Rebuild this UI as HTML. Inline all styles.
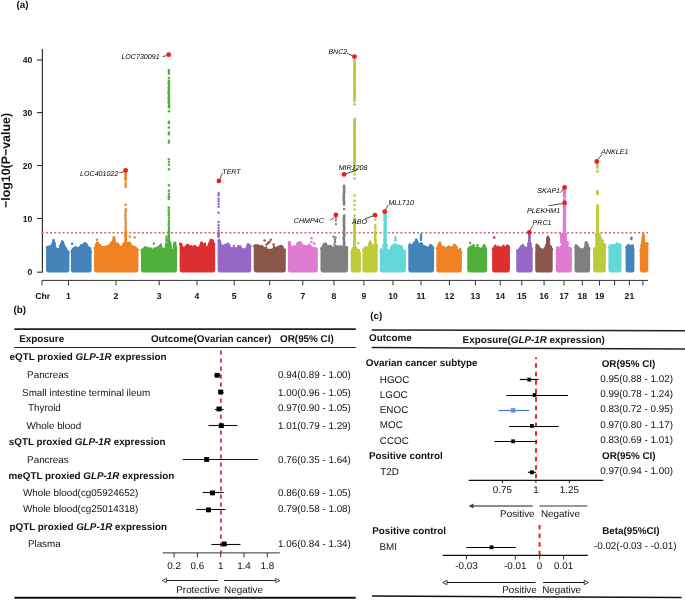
<!DOCTYPE html>
<html><head><meta charset="utf-8"><title>Figure</title>
<style>html,body{margin:0;padding:0;background:#fff;width:685px;height:600px;overflow:hidden}svg{display:block;will-change:transform}</style>
</head><body>
<svg width="685" height="600" viewBox="0 0 685 600">
<style>
text{font-family:"Liberation Sans",sans-serif;fill:#111;text-rendering:geometricPrecision}
.lab{font-size:7.1px;font-style:italic;fill:#000}
.tk{font-size:8.6px;font-weight:bold}
.yt{font-size:12.4px;font-weight:bold}
.b9{font-size:9.5px;font-weight:bold}
.b10{font-size:9.85px;font-weight:bold}
.r10{font-size:9.85px}
</style>
<rect width="685" height="600" fill="#fff"/>
<text x="16.5" y="8.1" class="b10">(a)</text><line x1="42.4" y1="49" x2="42.4" y2="272.6" stroke="#333" stroke-width="1.2"/><line x1="37" y1="60" x2="42.4" y2="60" stroke="#333" stroke-width="1.1"/><text x="32.4" y="63.1" class="tk" text-anchor="end">40</text><line x1="37" y1="112.6" x2="42.4" y2="112.6" stroke="#333" stroke-width="1.1"/><text x="32.4" y="115.7" class="tk" text-anchor="end">30</text><line x1="37" y1="165.5" x2="42.4" y2="165.5" stroke="#333" stroke-width="1.1"/><text x="32.4" y="168.6" class="tk" text-anchor="end">20</text><line x1="37" y1="218.5" x2="42.4" y2="218.5" stroke="#333" stroke-width="1.1"/><text x="32.4" y="221.6" class="tk" text-anchor="end">10</text><line x1="37" y1="272.2" x2="42.4" y2="272.2" stroke="#333" stroke-width="1.1"/><text x="32.4" y="275.3" class="tk" text-anchor="end">0</text><text transform="translate(9.8,160.5) rotate(-90)" class="yt" text-anchor="middle">−log10(P−value)</text><line x1="42" y1="280.4" x2="648" y2="280.4" stroke="#333" stroke-width="1"/><line x1="42" y1="280.4" x2="42" y2="285.4" stroke="#333" stroke-width="1"/><line x1="68.5" y1="280.4" x2="68.5" y2="285.4" stroke="#333" stroke-width="1"/><text x="68.5" y="298.6" class="tk" text-anchor="middle">1</text><line x1="116" y1="280.4" x2="116" y2="285.4" stroke="#333" stroke-width="1"/><text x="116" y="298.6" class="tk" text-anchor="middle">2</text><line x1="159.2" y1="280.4" x2="159.2" y2="285.4" stroke="#333" stroke-width="1"/><text x="159.2" y="298.6" class="tk" text-anchor="middle">3</text><line x1="197" y1="280.4" x2="197" y2="285.4" stroke="#333" stroke-width="1"/><text x="197" y="298.6" class="tk" text-anchor="middle">4</text><line x1="234.2" y1="280.4" x2="234.2" y2="285.4" stroke="#333" stroke-width="1"/><text x="234.2" y="298.6" class="tk" text-anchor="middle">5</text><line x1="269.7" y1="280.4" x2="269.7" y2="285.4" stroke="#333" stroke-width="1"/><text x="269.7" y="298.6" class="tk" text-anchor="middle">6</text><line x1="302.8" y1="280.4" x2="302.8" y2="285.4" stroke="#333" stroke-width="1"/><text x="302.8" y="298.6" class="tk" text-anchor="middle">7</text><line x1="334" y1="280.4" x2="334" y2="285.4" stroke="#333" stroke-width="1"/><text x="334" y="298.6" class="tk" text-anchor="middle">8</text><line x1="363.9" y1="280.4" x2="363.9" y2="285.4" stroke="#333" stroke-width="1"/><text x="363.9" y="298.6" class="tk" text-anchor="middle">9</text><line x1="393" y1="280.4" x2="393" y2="285.4" stroke="#333" stroke-width="1"/><text x="393" y="298.6" class="tk" text-anchor="middle">10</text><line x1="421" y1="280.4" x2="421" y2="285.4" stroke="#333" stroke-width="1"/><text x="421" y="298.6" class="tk" text-anchor="middle">11</text><line x1="449.4" y1="280.4" x2="449.4" y2="285.4" stroke="#333" stroke-width="1"/><text x="449.4" y="298.6" class="tk" text-anchor="middle">12</text><line x1="475.4" y1="280.4" x2="475.4" y2="285.4" stroke="#333" stroke-width="1"/><text x="475.4" y="298.6" class="tk" text-anchor="middle">13</text><line x1="500.2" y1="280.4" x2="500.2" y2="285.4" stroke="#333" stroke-width="1"/><text x="500.2" y="298.6" class="tk" text-anchor="middle">14</text><line x1="521.8" y1="280.4" x2="521.8" y2="285.4" stroke="#333" stroke-width="1"/><text x="521.8" y="298.6" class="tk" text-anchor="middle">15</text><line x1="544.1" y1="280.4" x2="544.1" y2="285.4" stroke="#333" stroke-width="1"/><text x="544.1" y="298.6" class="tk" text-anchor="middle">16</text><line x1="564" y1="280.4" x2="564" y2="285.4" stroke="#333" stroke-width="1"/><text x="564" y="298.6" class="tk" text-anchor="middle">17</text><line x1="582.3" y1="280.4" x2="582.3" y2="285.4" stroke="#333" stroke-width="1"/><text x="582.3" y="298.6" class="tk" text-anchor="middle">18</text><line x1="599.5" y1="280.4" x2="599.5" y2="285.4" stroke="#333" stroke-width="1"/><text x="599.5" y="298.6" class="tk" text-anchor="middle">19</text><line x1="614.6" y1="280.4" x2="614.6" y2="285.4" stroke="#333" stroke-width="1"/><line x1="629.4" y1="280.4" x2="629.4" y2="285.4" stroke="#333" stroke-width="1"/><text x="629.4" y="298.6" class="tk" text-anchor="middle">21</text><line x1="642.9" y1="280.4" x2="642.9" y2="285.4" stroke="#333" stroke-width="1"/><text x="35.3" y="298.6" class="tk">Chr</text><line x1="41.7" y1="232.8" x2="648" y2="232.8" stroke="#d06a78" stroke-width="1.4" stroke-dasharray="2.1,2.07"/>
<path d="M46.90,248.10 L47.50,247.00 L50.00,246.30 L52.00,245.60 L52.60,242.80 L53.70,241.20 L54.90,242.80 L55.50,248.50 L57.00,249.00 L59.50,250.00 L61.00,243.80 L62.30,241.20 L63.60,243.80 L64.50,246.30 L65.50,247.80 L67.00,250.30 L68.50,252.10 L68.60,253.60 L68.60,269.80 Q68.60,271.80 66.60,271.80 L48.90,271.80 Q46.90,271.80 46.90,269.80 Z" fill="#4484ba" stroke="#4484ba" stroke-width="1.6" stroke-linejoin="round"/><circle cx="46.93" cy="247.45" r="1.2" fill="#4484ba"/><circle cx="48.05" cy="246.74" r="1.2" fill="#4484ba"/><circle cx="48.92" cy="246.88" r="1.2" fill="#4484ba"/><circle cx="49.56" cy="246.88" r="1.2" fill="#4484ba"/><circle cx="50.48" cy="246.49" r="1.2" fill="#4484ba"/><circle cx="51.43" cy="245.72" r="1.2" fill="#4484ba"/><circle cx="52.58" cy="243.77" r="1.2" fill="#4484ba"/><circle cx="53.33" cy="241.83" r="1.2" fill="#4484ba"/><circle cx="54.56" cy="243.38" r="1.2" fill="#4484ba"/><circle cx="55.47" cy="248.50" r="1.2" fill="#4484ba"/><circle cx="56.64" cy="248.74" r="1.2" fill="#4484ba"/><circle cx="57.50" cy="249.38" r="1.2" fill="#4484ba"/><circle cx="58.00" cy="249.35" r="1.2" fill="#4484ba"/><circle cx="59.03" cy="250.67" r="1.2" fill="#4484ba"/><circle cx="59.89" cy="248.95" r="1.2" fill="#4484ba"/><circle cx="61.10" cy="243.89" r="1.2" fill="#4484ba"/><circle cx="61.97" cy="241.74" r="1.2" fill="#4484ba"/><circle cx="62.61" cy="241.89" r="1.2" fill="#4484ba"/><circle cx="63.92" cy="245.03" r="1.2" fill="#4484ba"/><circle cx="64.63" cy="247.05" r="1.2" fill="#4484ba"/><circle cx="65.64" cy="248.23" r="1.2" fill="#4484ba"/><circle cx="66.78" cy="250.64" r="1.2" fill="#4484ba"/><circle cx="67.38" cy="251.31" r="1.2" fill="#4484ba"/><circle cx="68.48" cy="253.02" r="1.2" fill="#4484ba"/><circle cx="53.56" cy="240.02" r="1.2" fill="#4484ba"/><circle cx="53.56" cy="240.91" r="1.2" fill="#4484ba"/><circle cx="60.04" cy="246.05" r="1.2" fill="#4484ba"/><circle cx="60.04" cy="247.10" r="1.2" fill="#4484ba"/><circle cx="53.70" cy="241.60" r="1.2" fill="#4484ba"/><circle cx="62.30" cy="241.60" r="1.2" fill="#4484ba"/><path d="M71.70,251.00 L72.50,249.20 L75.50,247.00 L77.00,248.50 L79.00,247.80 L81.50,244.80 L83.00,246.30 L85.20,243.40 L87.00,245.90 L89.00,249.20 L91.00,251.00 L90.80,251.80 L90.80,269.80 Q90.80,271.80 88.80,271.80 L73.70,271.80 Q71.70,271.80 71.70,269.80 Z" fill="#4484ba" stroke="#4484ba" stroke-width="1.6" stroke-linejoin="round"/><circle cx="71.58" cy="250.95" r="1.2" fill="#4484ba"/><circle cx="72.87" cy="250.02" r="1.2" fill="#4484ba"/><circle cx="73.92" cy="248.33" r="1.2" fill="#4484ba"/><circle cx="74.60" cy="248.33" r="1.2" fill="#4484ba"/><circle cx="75.32" cy="247.53" r="1.2" fill="#4484ba"/><circle cx="76.35" cy="247.80" r="1.2" fill="#4484ba"/><circle cx="77.22" cy="249.22" r="1.2" fill="#4484ba"/><circle cx="78.20" cy="248.20" r="1.2" fill="#4484ba"/><circle cx="79.30" cy="248.37" r="1.2" fill="#4484ba"/><circle cx="80.06" cy="246.92" r="1.2" fill="#4484ba"/><circle cx="81.28" cy="246.01" r="1.2" fill="#4484ba"/><circle cx="82.38" cy="246.61" r="1.2" fill="#4484ba"/><circle cx="83.00" cy="246.64" r="1.2" fill="#4484ba"/><circle cx="83.99" cy="245.95" r="1.2" fill="#4484ba"/><circle cx="85.29" cy="243.52" r="1.2" fill="#4484ba"/><circle cx="85.76" cy="244.28" r="1.2" fill="#4484ba"/><circle cx="86.74" cy="245.96" r="1.2" fill="#4484ba"/><circle cx="87.89" cy="247.51" r="1.2" fill="#4484ba"/><circle cx="88.48" cy="248.69" r="1.2" fill="#4484ba"/><circle cx="89.64" cy="250.31" r="1.2" fill="#4484ba"/><circle cx="90.93" cy="251.64" r="1.2" fill="#4484ba"/><circle cx="83.05" cy="244.62" r="1.2" fill="#4484ba"/><circle cx="83.05" cy="245.63" r="1.2" fill="#4484ba"/><circle cx="84.71" cy="243.11" r="1.2" fill="#4484ba"/><circle cx="84.71" cy="243.78" r="1.2" fill="#4484ba"/><circle cx="86.47" cy="244.48" r="1.2" fill="#4484ba"/><circle cx="86.47" cy="245.03" r="1.2" fill="#4484ba"/><circle cx="88.07" cy="246.91" r="1.2" fill="#4484ba"/><circle cx="88.07" cy="247.49" r="1.2" fill="#4484ba"/><circle cx="90.04" cy="248.13" r="1.2" fill="#4484ba"/><circle cx="90.04" cy="249.33" r="1.2" fill="#4484ba"/><circle cx="75.50" cy="247.40" r="1.2" fill="#4484ba"/><circle cx="81.50" cy="245.20" r="1.2" fill="#4484ba"/><circle cx="85.20" cy="243.80" r="1.2" fill="#4484ba"/><path d="M94.90,249.10 L95.50,247.00 L96.20,243.80 L97.00,242.30 L97.80,243.80 L99.00,246.30 L103.00,247.00 L106.00,246.70 L108.50,246.00 L110.50,243.80 L111.50,242.30 L112.50,243.80 L113.20,239.80 L114.00,238.30 L114.80,239.80 L115.60,245.20 L117.50,243.40 L119.00,245.60 L121.50,247.80 L123.00,244.80 L124.00,243.00 L125.60,242.80 L127.00,245.60 L128.50,243.80 L129.50,242.30 L130.50,243.80 L131.50,246.00 L134.00,246.70 L137.00,248.50 L137.60,250.70 L137.60,269.80 Q137.60,271.80 135.60,271.80 L96.90,271.80 Q94.90,271.80 94.90,269.80 Z" fill="#f08224" stroke="#f08224" stroke-width="1.6" stroke-linejoin="round"/><circle cx="94.79" cy="248.19" r="1.2" fill="#f08224"/><circle cx="95.82" cy="245.83" r="1.2" fill="#f08224"/><circle cx="96.59" cy="243.98" r="1.2" fill="#f08224"/><circle cx="98.01" cy="244.65" r="1.2" fill="#f08224"/><circle cx="98.61" cy="245.40" r="1.2" fill="#f08224"/><circle cx="99.29" cy="246.60" r="1.2" fill="#f08224"/><circle cx="100.29" cy="247.40" r="1.2" fill="#f08224"/><circle cx="101.13" cy="246.50" r="1.2" fill="#f08224"/><circle cx="102.51" cy="247.40" r="1.2" fill="#f08224"/><circle cx="102.93" cy="247.49" r="1.2" fill="#f08224"/><circle cx="103.76" cy="247.41" r="1.2" fill="#f08224"/><circle cx="105.24" cy="247.70" r="1.2" fill="#f08224"/><circle cx="105.97" cy="246.84" r="1.2" fill="#f08224"/><circle cx="106.68" cy="246.53" r="1.2" fill="#f08224"/><circle cx="107.82" cy="246.68" r="1.2" fill="#f08224"/><circle cx="108.73" cy="245.97" r="1.2" fill="#f08224"/><circle cx="109.30" cy="245.97" r="1.2" fill="#f08224"/><circle cx="110.66" cy="244.46" r="1.2" fill="#f08224"/><circle cx="111.46" cy="243.22" r="1.2" fill="#f08224"/><circle cx="112.33" cy="243.63" r="1.2" fill="#f08224"/><circle cx="113.10" cy="240.65" r="1.2" fill="#f08224"/><circle cx="113.71" cy="238.69" r="1.2" fill="#f08224"/><circle cx="114.76" cy="239.86" r="1.2" fill="#f08224"/><circle cx="115.91" cy="245.95" r="1.2" fill="#f08224"/><circle cx="116.67" cy="245.20" r="1.2" fill="#f08224"/><circle cx="117.90" cy="245.03" r="1.2" fill="#f08224"/><circle cx="118.43" cy="244.85" r="1.2" fill="#f08224"/><circle cx="119.25" cy="245.88" r="1.2" fill="#f08224"/><circle cx="120.14" cy="247.22" r="1.2" fill="#f08224"/><circle cx="121.46" cy="248.66" r="1.2" fill="#f08224"/><circle cx="122.11" cy="247.22" r="1.2" fill="#f08224"/><circle cx="123.21" cy="244.33" r="1.2" fill="#f08224"/><circle cx="124.03" cy="243.98" r="1.2" fill="#f08224"/><circle cx="125.01" cy="243.65" r="1.2" fill="#f08224"/><circle cx="125.73" cy="243.09" r="1.2" fill="#f08224"/><circle cx="126.82" cy="245.47" r="1.2" fill="#f08224"/><circle cx="127.73" cy="245.79" r="1.2" fill="#f08224"/><circle cx="128.39" cy="244.25" r="1.2" fill="#f08224"/><circle cx="129.63" cy="243.23" r="1.2" fill="#f08224"/><circle cx="130.07" cy="243.11" r="1.2" fill="#f08224"/><circle cx="130.96" cy="245.78" r="1.2" fill="#f08224"/><circle cx="132.26" cy="246.20" r="1.2" fill="#f08224"/><circle cx="133.17" cy="247.54" r="1.2" fill="#f08224"/><circle cx="133.97" cy="246.95" r="1.2" fill="#f08224"/><circle cx="134.81" cy="247.16" r="1.2" fill="#f08224"/><circle cx="135.40" cy="248.60" r="1.2" fill="#f08224"/><circle cx="136.68" cy="248.79" r="1.2" fill="#f08224"/><circle cx="137.76" cy="250.05" r="1.2" fill="#f08224"/><circle cx="98.03" cy="243.27" r="1.2" fill="#f08224"/><circle cx="98.03" cy="243.97" r="1.2" fill="#f08224"/><circle cx="99.92" cy="244.92" r="1.2" fill="#f08224"/><circle cx="99.92" cy="245.89" r="1.2" fill="#f08224"/><circle cx="113.89" cy="237.20" r="1.2" fill="#f08224"/><circle cx="113.89" cy="238.05" r="1.2" fill="#f08224"/><circle cx="115.68" cy="243.25" r="1.2" fill="#f08224"/><circle cx="115.68" cy="244.39" r="1.2" fill="#f08224"/><circle cx="127.41" cy="243.27" r="1.2" fill="#f08224"/><circle cx="127.41" cy="244.39" r="1.2" fill="#f08224"/><circle cx="97.00" cy="242.70" r="1.2" fill="#f08224"/><circle cx="111.50" cy="242.70" r="1.2" fill="#f08224"/><circle cx="114.00" cy="238.70" r="1.2" fill="#f08224"/><circle cx="117.50" cy="243.80" r="1.2" fill="#f08224"/><circle cx="125.60" cy="243.20" r="1.2" fill="#f08224"/><circle cx="129.50" cy="242.70" r="1.2" fill="#f08224"/><path d="M141.70,250.80 L142.50,248.90 L145.00,248.10 L147.00,248.40 L149.00,249.60 L151.00,250.30 L154.00,248.90 L156.00,250.30 L158.00,248.50 L159.50,246.80 L160.50,246.00 L161.50,246.80 L162.00,247.80 L163.50,250.00 L165.00,248.90 L166.00,243.80 L168.90,243.30 L170.50,244.10 L171.50,249.60 L173.50,250.00 L174.20,244.80 L175.00,242.30 L175.80,244.80 L176.50,250.30 L176.30,251.30 L176.30,269.80 Q176.30,271.80 174.30,271.80 L143.70,271.80 Q141.70,271.80 141.70,269.80 Z" fill="#4fb03a" stroke="#4fb03a" stroke-width="1.6" stroke-linejoin="round"/><circle cx="141.78" cy="250.25" r="1.2" fill="#4fb03a"/><circle cx="142.70" cy="249.86" r="1.2" fill="#4fb03a"/><circle cx="143.73" cy="249.44" r="1.2" fill="#4fb03a"/><circle cx="144.79" cy="248.31" r="1.2" fill="#4fb03a"/><circle cx="145.46" cy="249.20" r="1.2" fill="#4fb03a"/><circle cx="146.53" cy="248.31" r="1.2" fill="#4fb03a"/><circle cx="147.01" cy="248.78" r="1.2" fill="#4fb03a"/><circle cx="147.88" cy="249.04" r="1.2" fill="#4fb03a"/><circle cx="148.79" cy="250.14" r="1.2" fill="#4fb03a"/><circle cx="150.12" cy="250.96" r="1.2" fill="#4fb03a"/><circle cx="150.65" cy="250.91" r="1.2" fill="#4fb03a"/><circle cx="151.86" cy="249.89" r="1.2" fill="#4fb03a"/><circle cx="152.89" cy="250.47" r="1.2" fill="#4fb03a"/><circle cx="153.40" cy="250.22" r="1.2" fill="#4fb03a"/><circle cx="154.41" cy="249.62" r="1.2" fill="#4fb03a"/><circle cx="155.67" cy="250.95" r="1.2" fill="#4fb03a"/><circle cx="156.08" cy="250.59" r="1.2" fill="#4fb03a"/><circle cx="157.20" cy="249.46" r="1.2" fill="#4fb03a"/><circle cx="157.91" cy="248.79" r="1.2" fill="#4fb03a"/><circle cx="159.13" cy="247.04" r="1.2" fill="#4fb03a"/><circle cx="159.94" cy="246.82" r="1.2" fill="#4fb03a"/><circle cx="160.52" cy="246.25" r="1.2" fill="#4fb03a"/><circle cx="161.79" cy="247.84" r="1.2" fill="#4fb03a"/><circle cx="162.36" cy="249.41" r="1.2" fill="#4fb03a"/><circle cx="163.70" cy="250.92" r="1.2" fill="#4fb03a"/><circle cx="164.19" cy="249.64" r="1.2" fill="#4fb03a"/><circle cx="165.06" cy="249.41" r="1.2" fill="#4fb03a"/><circle cx="166.10" cy="243.75" r="1.2" fill="#4fb03a"/><circle cx="167.10" cy="244.60" r="1.2" fill="#4fb03a"/><circle cx="168.24" cy="243.55" r="1.2" fill="#4fb03a"/><circle cx="168.74" cy="244.32" r="1.2" fill="#4fb03a"/><circle cx="169.90" cy="244.51" r="1.2" fill="#4fb03a"/><circle cx="170.52" cy="244.08" r="1.2" fill="#4fb03a"/><circle cx="171.78" cy="250.01" r="1.2" fill="#4fb03a"/><circle cx="172.32" cy="250.78" r="1.2" fill="#4fb03a"/><circle cx="173.56" cy="250.39" r="1.2" fill="#4fb03a"/><circle cx="174.14" cy="246.19" r="1.2" fill="#4fb03a"/><circle cx="175.03" cy="243.32" r="1.2" fill="#4fb03a"/><circle cx="176.17" cy="247.93" r="1.2" fill="#4fb03a"/><circle cx="144.93" cy="247.32" r="1.2" fill="#4fb03a"/><circle cx="144.93" cy="247.92" r="1.2" fill="#4fb03a"/><circle cx="147.05" cy="247.66" r="1.2" fill="#4fb03a"/><circle cx="147.05" cy="248.24" r="1.2" fill="#4fb03a"/><circle cx="148.82" cy="248.57" r="1.2" fill="#4fb03a"/><circle cx="148.82" cy="249.23" r="1.2" fill="#4fb03a"/><circle cx="150.73" cy="248.39" r="1.2" fill="#4fb03a"/><circle cx="150.73" cy="249.50" r="1.2" fill="#4fb03a"/><circle cx="154.39" cy="248.55" r="1.2" fill="#4fb03a"/><circle cx="154.39" cy="249.06" r="1.2" fill="#4fb03a"/><circle cx="156.25" cy="248.31" r="1.2" fill="#4fb03a"/><circle cx="156.25" cy="249.39" r="1.2" fill="#4fb03a"/><circle cx="158.40" cy="246.69" r="1.2" fill="#4fb03a"/><circle cx="158.40" cy="247.57" r="1.2" fill="#4fb03a"/><circle cx="160.93" cy="244.43" r="1.2" fill="#4fb03a"/><circle cx="160.93" cy="245.59" r="1.2" fill="#4fb03a"/><circle cx="170.09" cy="241.96" r="1.2" fill="#4fb03a"/><circle cx="170.09" cy="243.13" r="1.2" fill="#4fb03a"/><circle cx="174.40" cy="243.49" r="1.2" fill="#4fb03a"/><circle cx="174.40" cy="244.04" r="1.2" fill="#4fb03a"/><circle cx="145.00" cy="248.50" r="1.2" fill="#4fb03a"/><circle cx="154.00" cy="249.30" r="1.2" fill="#4fb03a"/><circle cx="160.50" cy="246.40" r="1.2" fill="#4fb03a"/><circle cx="168.90" cy="243.70" r="1.2" fill="#4fb03a"/><circle cx="175.00" cy="242.70" r="1.2" fill="#4fb03a"/><path d="M180.40,244.30 L180.30,243.40 L181.00,243.80 L182.50,247.00 L184.00,248.10 L185.50,247.00 L186.70,245.30 L187.50,244.50 L188.30,245.30 L189.00,247.00 L191.00,247.80 L193.00,248.50 L194.50,246.00 L196.50,247.40 L198.50,248.10 L200.50,245.20 L201.50,242.30 L202.50,245.30 L203.00,247.00 L205.00,245.80 L206.00,248.10 L207.50,248.10 L209.00,243.80 L210.50,241.60 L212.50,240.10 L214.00,244.10 L214.30,248.30 L214.30,269.80 Q214.30,271.80 212.30,271.80 L182.40,271.80 Q180.40,271.80 180.40,269.80 Z" fill="#dc2f2f" stroke="#dc2f2f" stroke-width="1.6" stroke-linejoin="round"/><circle cx="180.25" cy="244.22" r="1.2" fill="#dc2f2f"/><circle cx="181.27" cy="244.40" r="1.2" fill="#dc2f2f"/><circle cx="182.08" cy="247.00" r="1.2" fill="#dc2f2f"/><circle cx="183.46" cy="248.38" r="1.2" fill="#dc2f2f"/><circle cx="184.02" cy="248.20" r="1.2" fill="#dc2f2f"/><circle cx="184.94" cy="247.81" r="1.2" fill="#dc2f2f"/><circle cx="185.77" cy="247.00" r="1.2" fill="#dc2f2f"/><circle cx="186.74" cy="246.31" r="1.2" fill="#dc2f2f"/><circle cx="188.08" cy="245.59" r="1.2" fill="#dc2f2f"/><circle cx="188.55" cy="246.96" r="1.2" fill="#dc2f2f"/><circle cx="189.50" cy="247.46" r="1.2" fill="#dc2f2f"/><circle cx="190.22" cy="247.79" r="1.2" fill="#dc2f2f"/><circle cx="191.42" cy="248.40" r="1.2" fill="#dc2f2f"/><circle cx="192.16" cy="248.66" r="1.2" fill="#dc2f2f"/><circle cx="192.96" cy="248.63" r="1.2" fill="#dc2f2f"/><circle cx="193.92" cy="247.29" r="1.2" fill="#dc2f2f"/><circle cx="194.80" cy="246.04" r="1.2" fill="#dc2f2f"/><circle cx="195.87" cy="247.06" r="1.2" fill="#dc2f2f"/><circle cx="196.95" cy="248.04" r="1.2" fill="#dc2f2f"/><circle cx="197.96" cy="248.56" r="1.2" fill="#dc2f2f"/><circle cx="198.84" cy="248.54" r="1.2" fill="#dc2f2f"/><circle cx="199.56" cy="246.79" r="1.2" fill="#dc2f2f"/><circle cx="200.83" cy="244.25" r="1.2" fill="#dc2f2f"/><circle cx="201.58" cy="243.18" r="1.2" fill="#dc2f2f"/><circle cx="202.08" cy="244.93" r="1.2" fill="#dc2f2f"/><circle cx="203.50" cy="247.31" r="1.2" fill="#dc2f2f"/><circle cx="204.32" cy="247.07" r="1.2" fill="#dc2f2f"/><circle cx="204.87" cy="246.36" r="1.2" fill="#dc2f2f"/><circle cx="206.00" cy="248.99" r="1.2" fill="#dc2f2f"/><circle cx="207.09" cy="248.97" r="1.2" fill="#dc2f2f"/><circle cx="207.87" cy="248.00" r="1.2" fill="#dc2f2f"/><circle cx="208.84" cy="244.97" r="1.2" fill="#dc2f2f"/><circle cx="209.48" cy="242.94" r="1.2" fill="#dc2f2f"/><circle cx="210.33" cy="242.12" r="1.2" fill="#dc2f2f"/><circle cx="211.22" cy="241.95" r="1.2" fill="#dc2f2f"/><circle cx="212.40" cy="240.79" r="1.2" fill="#dc2f2f"/><circle cx="213.36" cy="243.07" r="1.2" fill="#dc2f2f"/><circle cx="214.18" cy="244.60" r="1.2" fill="#dc2f2f"/><circle cx="189.10" cy="246.02" r="1.2" fill="#dc2f2f"/><circle cx="189.10" cy="246.73" r="1.2" fill="#dc2f2f"/><circle cx="191.43" cy="246.17" r="1.2" fill="#dc2f2f"/><circle cx="191.43" cy="247.26" r="1.2" fill="#dc2f2f"/><circle cx="202.17" cy="243.30" r="1.2" fill="#dc2f2f"/><circle cx="202.17" cy="244.00" r="1.2" fill="#dc2f2f"/><circle cx="204.51" cy="244.59" r="1.2" fill="#dc2f2f"/><circle cx="204.51" cy="245.54" r="1.2" fill="#dc2f2f"/><circle cx="206.12" cy="247.07" r="1.2" fill="#dc2f2f"/><circle cx="206.12" cy="247.78" r="1.2" fill="#dc2f2f"/><circle cx="210.67" cy="240.05" r="1.2" fill="#dc2f2f"/><circle cx="210.67" cy="240.96" r="1.2" fill="#dc2f2f"/><circle cx="180.30" cy="243.80" r="1.2" fill="#dc2f2f"/><circle cx="187.50" cy="244.90" r="1.2" fill="#dc2f2f"/><circle cx="194.50" cy="246.40" r="1.2" fill="#dc2f2f"/><circle cx="201.50" cy="242.70" r="1.2" fill="#dc2f2f"/><circle cx="205.00" cy="246.20" r="1.2" fill="#dc2f2f"/><circle cx="212.50" cy="240.50" r="1.2" fill="#dc2f2f"/><path d="M218.40,240.80 L219.50,240.50 L220.50,243.00 L221.50,247.00 L223.00,248.90 L224.50,245.20 L226.00,246.30 L227.20,244.30 L228.00,243.40 L228.80,244.30 L229.50,246.00 L230.50,250.70 L232.00,248.10 L234.00,247.90 L236.00,249.20 L238.50,246.70 L240.50,247.60 L242.50,248.90 L244.50,249.60 L246.00,249.20 L247.30,245.30 L248.00,244.10 L248.80,244.80 L250.00,245.20 L250.40,246.30 L250.40,269.80 Q250.40,271.80 248.40,271.80 L220.40,271.80 Q218.40,271.80 218.40,269.80 Z" fill="#9568c8" stroke="#9568c8" stroke-width="1.6" stroke-linejoin="round"/><circle cx="218.74" cy="240.68" r="1.2" fill="#9568c8"/><circle cx="219.70" cy="242.02" r="1.2" fill="#9568c8"/><circle cx="220.03" cy="242.23" r="1.2" fill="#9568c8"/><circle cx="221.42" cy="247.76" r="1.2" fill="#9568c8"/><circle cx="222.11" cy="247.92" r="1.2" fill="#9568c8"/><circle cx="222.87" cy="249.77" r="1.2" fill="#9568c8"/><circle cx="223.78" cy="247.52" r="1.2" fill="#9568c8"/><circle cx="224.65" cy="245.79" r="1.2" fill="#9568c8"/><circle cx="226.04" cy="246.20" r="1.2" fill="#9568c8"/><circle cx="226.87" cy="245.31" r="1.2" fill="#9568c8"/><circle cx="227.82" cy="244.32" r="1.2" fill="#9568c8"/><circle cx="228.34" cy="244.75" r="1.2" fill="#9568c8"/><circle cx="229.40" cy="245.58" r="1.2" fill="#9568c8"/><circle cx="230.02" cy="248.86" r="1.2" fill="#9568c8"/><circle cx="231.19" cy="249.69" r="1.2" fill="#9568c8"/><circle cx="231.91" cy="248.50" r="1.2" fill="#9568c8"/><circle cx="232.93" cy="248.90" r="1.2" fill="#9568c8"/><circle cx="233.65" cy="248.71" r="1.2" fill="#9568c8"/><circle cx="235.06" cy="248.54" r="1.2" fill="#9568c8"/><circle cx="236.02" cy="249.91" r="1.2" fill="#9568c8"/><circle cx="236.91" cy="248.47" r="1.2" fill="#9568c8"/><circle cx="237.50" cy="248.01" r="1.2" fill="#9568c8"/><circle cx="238.79" cy="247.39" r="1.2" fill="#9568c8"/><circle cx="239.31" cy="247.42" r="1.2" fill="#9568c8"/><circle cx="240.17" cy="247.31" r="1.2" fill="#9568c8"/><circle cx="240.97" cy="248.79" r="1.2" fill="#9568c8"/><circle cx="241.99" cy="249.58" r="1.2" fill="#9568c8"/><circle cx="242.88" cy="249.18" r="1.2" fill="#9568c8"/><circle cx="243.94" cy="249.45" r="1.2" fill="#9568c8"/><circle cx="244.77" cy="250.57" r="1.2" fill="#9568c8"/><circle cx="245.98" cy="250.06" r="1.2" fill="#9568c8"/><circle cx="246.74" cy="247.97" r="1.2" fill="#9568c8"/><circle cx="247.83" cy="244.90" r="1.2" fill="#9568c8"/><circle cx="248.61" cy="244.50" r="1.2" fill="#9568c8"/><circle cx="249.52" cy="245.43" r="1.2" fill="#9568c8"/><circle cx="250.44" cy="246.24" r="1.2" fill="#9568c8"/><circle cx="219.10" cy="239.88" r="1.2" fill="#9568c8"/><circle cx="219.10" cy="240.42" r="1.2" fill="#9568c8"/><circle cx="221.63" cy="245.81" r="1.2" fill="#9568c8"/><circle cx="221.63" cy="246.68" r="1.2" fill="#9568c8"/><circle cx="223.57" cy="245.71" r="1.2" fill="#9568c8"/><circle cx="223.57" cy="246.80" r="1.2" fill="#9568c8"/><circle cx="226.15" cy="244.41" r="1.2" fill="#9568c8"/><circle cx="226.15" cy="245.43" r="1.2" fill="#9568c8"/><circle cx="230.04" cy="247.69" r="1.2" fill="#9568c8"/><circle cx="230.04" cy="248.32" r="1.2" fill="#9568c8"/><circle cx="233.95" cy="245.86" r="1.2" fill="#9568c8"/><circle cx="233.95" cy="247.08" r="1.2" fill="#9568c8"/><circle cx="238.28" cy="246.17" r="1.2" fill="#9568c8"/><circle cx="238.28" cy="246.74" r="1.2" fill="#9568c8"/><circle cx="240.22" cy="246.49" r="1.2" fill="#9568c8"/><circle cx="240.22" cy="247.18" r="1.2" fill="#9568c8"/><circle cx="219.50" cy="240.90" r="1.2" fill="#9568c8"/><circle cx="224.50" cy="245.60" r="1.2" fill="#9568c8"/><circle cx="228.00" cy="243.80" r="1.2" fill="#9568c8"/><circle cx="234.00" cy="248.30" r="1.2" fill="#9568c8"/><circle cx="238.50" cy="247.10" r="1.2" fill="#9568c8"/><circle cx="248.00" cy="244.50" r="1.2" fill="#9568c8"/><path d="M254.50,246.00 L256.00,245.20 L258.00,245.60 L260.00,246.30 L262.50,246.70 L264.00,248.10 L265.50,249.30 L267.00,250.00 L269.00,249.60 L271.00,249.60 L273.00,248.90 L275.50,247.80 L277.50,248.50 L279.50,246.70 L281.20,245.60 L283.00,249.20 L285.00,250.00 L285.00,250.80 L285.00,269.80 Q285.00,271.80 283.00,271.80 L256.50,271.80 Q254.50,271.80 254.50,269.80 Z" fill="#8c574b" stroke="#8c574b" stroke-width="1.6" stroke-linejoin="round"/><circle cx="254.35" cy="245.93" r="1.2" fill="#8c574b"/><circle cx="255.81" cy="245.23" r="1.2" fill="#8c574b"/><circle cx="256.45" cy="245.91" r="1.2" fill="#8c574b"/><circle cx="257.59" cy="245.60" r="1.2" fill="#8c574b"/><circle cx="258.15" cy="245.77" r="1.2" fill="#8c574b"/><circle cx="259.14" cy="246.38" r="1.2" fill="#8c574b"/><circle cx="260.39" cy="247.27" r="1.2" fill="#8c574b"/><circle cx="261.26" cy="246.33" r="1.2" fill="#8c574b"/><circle cx="261.67" cy="247.29" r="1.2" fill="#8c574b"/><circle cx="263.11" cy="247.68" r="1.2" fill="#8c574b"/><circle cx="263.84" cy="247.75" r="1.2" fill="#8c574b"/><circle cx="264.64" cy="249.62" r="1.2" fill="#8c574b"/><circle cx="265.82" cy="250.36" r="1.2" fill="#8c574b"/><circle cx="266.82" cy="250.04" r="1.2" fill="#8c574b"/><circle cx="267.22" cy="249.96" r="1.2" fill="#8c574b"/><circle cx="268.39" cy="250.41" r="1.2" fill="#8c574b"/><circle cx="269.56" cy="250.34" r="1.2" fill="#8c574b"/><circle cx="270.30" cy="250.39" r="1.2" fill="#8c574b"/><circle cx="271.10" cy="250.08" r="1.2" fill="#8c574b"/><circle cx="271.77" cy="250.15" r="1.2" fill="#8c574b"/><circle cx="272.80" cy="249.97" r="1.2" fill="#8c574b"/><circle cx="273.96" cy="248.67" r="1.2" fill="#8c574b"/><circle cx="274.57" cy="248.34" r="1.2" fill="#8c574b"/><circle cx="275.79" cy="248.61" r="1.2" fill="#8c574b"/><circle cx="276.40" cy="248.01" r="1.2" fill="#8c574b"/><circle cx="277.56" cy="249.00" r="1.2" fill="#8c574b"/><circle cx="278.40" cy="247.78" r="1.2" fill="#8c574b"/><circle cx="279.44" cy="246.57" r="1.2" fill="#8c574b"/><circle cx="280.18" cy="246.66" r="1.2" fill="#8c574b"/><circle cx="281.49" cy="246.82" r="1.2" fill="#8c574b"/><circle cx="282.36" cy="248.34" r="1.2" fill="#8c574b"/><circle cx="282.89" cy="249.10" r="1.2" fill="#8c574b"/><circle cx="284.24" cy="250.41" r="1.2" fill="#8c574b"/><circle cx="284.77" cy="249.74" r="1.2" fill="#8c574b"/><circle cx="261.86" cy="245.94" r="1.2" fill="#8c574b"/><circle cx="261.86" cy="246.47" r="1.2" fill="#8c574b"/><circle cx="266.08" cy="247.69" r="1.2" fill="#8c574b"/><circle cx="266.08" cy="248.83" r="1.2" fill="#8c574b"/><circle cx="273.96" cy="246.66" r="1.2" fill="#8c574b"/><circle cx="273.96" cy="247.77" r="1.2" fill="#8c574b"/><circle cx="277.96" cy="247.13" r="1.2" fill="#8c574b"/><circle cx="277.96" cy="247.81" r="1.2" fill="#8c574b"/><circle cx="282.52" cy="247.01" r="1.2" fill="#8c574b"/><circle cx="282.52" cy="247.83" r="1.2" fill="#8c574b"/><circle cx="256.00" cy="245.60" r="1.2" fill="#8c574b"/><circle cx="269.00" cy="250.00" r="1.2" fill="#8c574b"/><circle cx="275.50" cy="248.20" r="1.2" fill="#8c574b"/><circle cx="281.20" cy="246.00" r="1.2" fill="#8c574b"/><path d="M288.70,242.30 L290.00,242.30 L291.00,248.10 L293.00,247.60 L295.00,247.00 L296.50,247.00 L297.50,243.00 L299.50,241.90 L301.00,242.70 L302.50,245.60 L304.00,246.30 L305.50,247.80 L307.50,247.00 L309.00,245.20 L310.50,246.00 L312.50,247.80 L314.50,248.10 L316.50,248.50 L317.00,249.60 L317.00,269.80 Q317.00,271.80 315.00,271.80 L290.70,271.80 Q288.70,271.80 288.70,269.80 Z" fill="#e07bd2" stroke="#e07bd2" stroke-width="1.6" stroke-linejoin="round"/><circle cx="289.09" cy="242.28" r="1.2" fill="#e07bd2"/><circle cx="289.44" cy="242.18" r="1.2" fill="#e07bd2"/><circle cx="290.55" cy="246.48" r="1.2" fill="#e07bd2"/><circle cx="291.75" cy="248.66" r="1.2" fill="#e07bd2"/><circle cx="292.73" cy="248.68" r="1.2" fill="#e07bd2"/><circle cx="293.23" cy="247.57" r="1.2" fill="#e07bd2"/><circle cx="294.50" cy="247.92" r="1.2" fill="#e07bd2"/><circle cx="294.87" cy="247.70" r="1.2" fill="#e07bd2"/><circle cx="295.98" cy="247.29" r="1.2" fill="#e07bd2"/><circle cx="296.86" cy="245.58" r="1.2" fill="#e07bd2"/><circle cx="297.57" cy="243.13" r="1.2" fill="#e07bd2"/><circle cx="298.68" cy="243.39" r="1.2" fill="#e07bd2"/><circle cx="299.45" cy="242.98" r="1.2" fill="#e07bd2"/><circle cx="300.41" cy="242.65" r="1.2" fill="#e07bd2"/><circle cx="301.68" cy="244.89" r="1.2" fill="#e07bd2"/><circle cx="302.36" cy="245.19" r="1.2" fill="#e07bd2"/><circle cx="303.29" cy="246.25" r="1.2" fill="#e07bd2"/><circle cx="304.46" cy="246.81" r="1.2" fill="#e07bd2"/><circle cx="305.03" cy="248.30" r="1.2" fill="#e07bd2"/><circle cx="305.74" cy="248.04" r="1.2" fill="#e07bd2"/><circle cx="307.11" cy="247.95" r="1.2" fill="#e07bd2"/><circle cx="307.56" cy="246.78" r="1.2" fill="#e07bd2"/><circle cx="308.48" cy="246.82" r="1.2" fill="#e07bd2"/><circle cx="309.50" cy="246.24" r="1.2" fill="#e07bd2"/><circle cx="310.79" cy="246.50" r="1.2" fill="#e07bd2"/><circle cx="311.32" cy="247.78" r="1.2" fill="#e07bd2"/><circle cx="312.43" cy="247.88" r="1.2" fill="#e07bd2"/><circle cx="313.40" cy="248.15" r="1.2" fill="#e07bd2"/><circle cx="314.04" cy="247.84" r="1.2" fill="#e07bd2"/><circle cx="315.24" cy="249.24" r="1.2" fill="#e07bd2"/><circle cx="316.07" cy="249.44" r="1.2" fill="#e07bd2"/><circle cx="316.61" cy="248.70" r="1.2" fill="#e07bd2"/><circle cx="293.94" cy="246.03" r="1.2" fill="#e07bd2"/><circle cx="293.94" cy="246.87" r="1.2" fill="#e07bd2"/><circle cx="304.46" cy="245.58" r="1.2" fill="#e07bd2"/><circle cx="304.46" cy="246.37" r="1.2" fill="#e07bd2"/><circle cx="306.84" cy="246.35" r="1.2" fill="#e07bd2"/><circle cx="306.84" cy="247.01" r="1.2" fill="#e07bd2"/><circle cx="309.19" cy="244.60" r="1.2" fill="#e07bd2"/><circle cx="309.19" cy="245.15" r="1.2" fill="#e07bd2"/><circle cx="290.00" cy="242.70" r="1.2" fill="#e07bd2"/><circle cx="295.00" cy="247.40" r="1.2" fill="#e07bd2"/><circle cx="299.50" cy="242.30" r="1.2" fill="#e07bd2"/><circle cx="309.00" cy="245.60" r="1.2" fill="#e07bd2"/><path d="M321.30,249.60 L322.50,246.70 L323.50,245.20 L325.50,243.40 L327.00,246.30 L328.50,247.00 L330.50,246.00 L332.00,248.50 L334.00,247.30 L336.00,247.80 L339.50,247.40 L341.50,248.10 L342.80,246.80 L345.30,246.80 L347.00,247.40 L347.30,248.50 L347.30,269.80 Q347.30,271.80 345.30,271.80 L323.30,271.80 Q321.30,271.80 321.30,269.80 Z" fill="#7f7f7f" stroke="#7f7f7f" stroke-width="1.6" stroke-linejoin="round"/><circle cx="321.17" cy="248.55" r="1.2" fill="#7f7f7f"/><circle cx="322.34" cy="247.66" r="1.2" fill="#7f7f7f"/><circle cx="323.23" cy="245.71" r="1.2" fill="#7f7f7f"/><circle cx="324.13" cy="245.24" r="1.2" fill="#7f7f7f"/><circle cx="325.20" cy="244.44" r="1.2" fill="#7f7f7f"/><circle cx="326.23" cy="245.47" r="1.2" fill="#7f7f7f"/><circle cx="326.71" cy="246.64" r="1.2" fill="#7f7f7f"/><circle cx="327.74" cy="247.18" r="1.2" fill="#7f7f7f"/><circle cx="328.70" cy="247.66" r="1.2" fill="#7f7f7f"/><circle cx="329.52" cy="246.61" r="1.2" fill="#7f7f7f"/><circle cx="330.47" cy="246.02" r="1.2" fill="#7f7f7f"/><circle cx="331.77" cy="248.67" r="1.2" fill="#7f7f7f"/><circle cx="332.36" cy="248.60" r="1.2" fill="#7f7f7f"/><circle cx="333.68" cy="247.95" r="1.2" fill="#7f7f7f"/><circle cx="334.14" cy="248.19" r="1.2" fill="#7f7f7f"/><circle cx="335.31" cy="248.72" r="1.2" fill="#7f7f7f"/><circle cx="335.90" cy="248.19" r="1.2" fill="#7f7f7f"/><circle cx="337.25" cy="248.55" r="1.2" fill="#7f7f7f"/><circle cx="338.23" cy="247.40" r="1.2" fill="#7f7f7f"/><circle cx="338.78" cy="247.44" r="1.2" fill="#7f7f7f"/><circle cx="339.63" cy="248.51" r="1.2" fill="#7f7f7f"/><circle cx="340.79" cy="248.86" r="1.2" fill="#7f7f7f"/><circle cx="341.58" cy="248.94" r="1.2" fill="#7f7f7f"/><circle cx="342.55" cy="247.19" r="1.2" fill="#7f7f7f"/><circle cx="343.67" cy="247.83" r="1.2" fill="#7f7f7f"/><circle cx="344.18" cy="247.37" r="1.2" fill="#7f7f7f"/><circle cx="345.41" cy="246.92" r="1.2" fill="#7f7f7f"/><circle cx="346.18" cy="247.09" r="1.2" fill="#7f7f7f"/><circle cx="347.00" cy="247.53" r="1.2" fill="#7f7f7f"/><circle cx="324.25" cy="243.91" r="1.2" fill="#7f7f7f"/><circle cx="324.25" cy="244.41" r="1.2" fill="#7f7f7f"/><circle cx="327.96" cy="245.82" r="1.2" fill="#7f7f7f"/><circle cx="327.96" cy="246.49" r="1.2" fill="#7f7f7f"/><circle cx="332.02" cy="247.25" r="1.2" fill="#7f7f7f"/><circle cx="332.02" cy="248.07" r="1.2" fill="#7f7f7f"/><circle cx="335.86" cy="246.05" r="1.2" fill="#7f7f7f"/><circle cx="335.86" cy="247.11" r="1.2" fill="#7f7f7f"/><circle cx="337.87" cy="246.49" r="1.2" fill="#7f7f7f"/><circle cx="337.87" cy="247.24" r="1.2" fill="#7f7f7f"/><circle cx="340.43" cy="246.22" r="1.2" fill="#7f7f7f"/><circle cx="340.43" cy="247.17" r="1.2" fill="#7f7f7f"/><circle cx="325.50" cy="243.80" r="1.2" fill="#7f7f7f"/><circle cx="330.50" cy="246.40" r="1.2" fill="#7f7f7f"/><circle cx="334.00" cy="247.70" r="1.2" fill="#7f7f7f"/><circle cx="339.50" cy="247.80" r="1.2" fill="#7f7f7f"/><circle cx="342.80" cy="247.20" r="1.2" fill="#7f7f7f"/><circle cx="345.30" cy="247.20" r="1.2" fill="#7f7f7f"/><path d="M351.50,252.90 L352.50,250.80 L353.20,247.80 L355.80,247.80 L356.50,248.50 L358.00,250.70 L360.00,253.60 L360.10,254.30 L360.10,269.80 Q360.10,271.80 358.10,271.80 L353.50,271.80 Q351.50,271.80 351.50,269.80 Z" fill="#bccb37" stroke="#bccb37" stroke-width="1.6" stroke-linejoin="round"/><circle cx="351.45" cy="252.78" r="1.2" fill="#bccb37"/><circle cx="352.38" cy="250.75" r="1.2" fill="#bccb37"/><circle cx="353.72" cy="248.15" r="1.2" fill="#bccb37"/><circle cx="354.60" cy="248.13" r="1.2" fill="#bccb37"/><circle cx="355.57" cy="248.20" r="1.2" fill="#bccb37"/><circle cx="356.06" cy="247.88" r="1.2" fill="#bccb37"/><circle cx="357.22" cy="250.19" r="1.2" fill="#bccb37"/><circle cx="358.36" cy="251.14" r="1.2" fill="#bccb37"/><circle cx="359.12" cy="252.60" r="1.2" fill="#bccb37"/><circle cx="359.98" cy="253.55" r="1.2" fill="#bccb37"/><circle cx="352.20" cy="249.72" r="1.2" fill="#bccb37"/><circle cx="352.20" cy="250.63" r="1.2" fill="#bccb37"/><circle cx="354.73" cy="246.42" r="1.2" fill="#bccb37"/><circle cx="354.73" cy="247.31" r="1.2" fill="#bccb37"/><circle cx="358.93" cy="249.94" r="1.2" fill="#bccb37"/><circle cx="358.93" cy="251.19" r="1.2" fill="#bccb37"/><circle cx="353.20" cy="248.20" r="1.2" fill="#bccb37"/><circle cx="355.80" cy="248.20" r="1.2" fill="#bccb37"/><path d="M363.20,251.60 L364.50,247.90 L366.00,247.20 L367.50,247.90 L369.00,245.00 L369.50,242.80 L370.20,241.30 L370.90,242.80 L371.60,244.80 L372.00,246.50 L373.00,249.40 L374.10,246.80 L376.50,245.00 L376.80,245.80 L376.80,269.80 Q376.80,271.80 374.80,271.80 L365.20,271.80 Q363.20,271.80 363.20,269.80 Z" fill="#bccb37" stroke="#bccb37" stroke-width="1.6" stroke-linejoin="round"/><circle cx="363.34" cy="249.81" r="1.2" fill="#bccb37"/><circle cx="364.56" cy="248.18" r="1.2" fill="#bccb37"/><circle cx="365.49" cy="248.04" r="1.2" fill="#bccb37"/><circle cx="366.39" cy="247.39" r="1.2" fill="#bccb37"/><circle cx="367.32" cy="247.91" r="1.2" fill="#bccb37"/><circle cx="368.04" cy="247.75" r="1.2" fill="#bccb37"/><circle cx="369.25" cy="243.95" r="1.2" fill="#bccb37"/><circle cx="369.83" cy="242.41" r="1.2" fill="#bccb37"/><circle cx="370.96" cy="243.27" r="1.2" fill="#bccb37"/><circle cx="371.67" cy="245.23" r="1.2" fill="#bccb37"/><circle cx="372.98" cy="250.32" r="1.2" fill="#bccb37"/><circle cx="373.52" cy="248.69" r="1.2" fill="#bccb37"/><circle cx="374.90" cy="246.05" r="1.2" fill="#bccb37"/><circle cx="375.90" cy="245.40" r="1.2" fill="#bccb37"/><circle cx="376.71" cy="245.67" r="1.2" fill="#bccb37"/><circle cx="372.29" cy="245.74" r="1.2" fill="#bccb37"/><circle cx="372.29" cy="246.73" r="1.2" fill="#bccb37"/><circle cx="374.38" cy="244.77" r="1.2" fill="#bccb37"/><circle cx="374.38" cy="245.88" r="1.2" fill="#bccb37"/><circle cx="366.00" cy="247.60" r="1.2" fill="#bccb37"/><circle cx="370.20" cy="241.70" r="1.2" fill="#bccb37"/><circle cx="376.50" cy="245.40" r="1.2" fill="#bccb37"/><path d="M380.60,251.60 L381.50,250.50 L383.50,250.30 L383.50,244.80 L386.80,244.80 L386.80,250.10 L390.00,250.10 L391.00,247.30 L392.50,245.40 L394.00,246.80 L395.50,244.60 L397.00,246.30 L398.50,245.40 L400.00,247.00 L401.50,246.00 L403.00,250.10 L404.50,250.40 L405.10,251.30 L405.10,269.80 Q405.10,271.80 403.10,271.80 L382.60,271.80 Q380.60,271.80 380.60,269.80 Z" fill="#64d8d8" stroke="#64d8d8" stroke-width="1.6" stroke-linejoin="round"/><circle cx="380.71" cy="251.05" r="1.2" fill="#64d8d8"/><circle cx="381.65" cy="250.42" r="1.2" fill="#64d8d8"/><circle cx="382.37" cy="250.77" r="1.2" fill="#64d8d8"/><circle cx="383.28" cy="250.70" r="1.2" fill="#64d8d8"/><circle cx="384.47" cy="244.65" r="1.2" fill="#64d8d8"/><circle cx="385.47" cy="244.71" r="1.2" fill="#64d8d8"/><circle cx="386.47" cy="245.61" r="1.2" fill="#64d8d8"/><circle cx="387.26" cy="249.97" r="1.2" fill="#64d8d8"/><circle cx="388.19" cy="250.39" r="1.2" fill="#64d8d8"/><circle cx="389.39" cy="250.08" r="1.2" fill="#64d8d8"/><circle cx="390.27" cy="250.45" r="1.2" fill="#64d8d8"/><circle cx="391.12" cy="248.00" r="1.2" fill="#64d8d8"/><circle cx="391.73" cy="247.45" r="1.2" fill="#64d8d8"/><circle cx="392.85" cy="246.77" r="1.2" fill="#64d8d8"/><circle cx="394.03" cy="246.77" r="1.2" fill="#64d8d8"/><circle cx="394.89" cy="246.51" r="1.2" fill="#64d8d8"/><circle cx="395.39" cy="245.02" r="1.2" fill="#64d8d8"/><circle cx="396.73" cy="246.00" r="1.2" fill="#64d8d8"/><circle cx="397.75" cy="246.01" r="1.2" fill="#64d8d8"/><circle cx="398.63" cy="245.53" r="1.2" fill="#64d8d8"/><circle cx="399.38" cy="247.33" r="1.2" fill="#64d8d8"/><circle cx="400.13" cy="247.05" r="1.2" fill="#64d8d8"/><circle cx="401.24" cy="246.39" r="1.2" fill="#64d8d8"/><circle cx="401.89" cy="247.11" r="1.2" fill="#64d8d8"/><circle cx="402.90" cy="250.84" r="1.2" fill="#64d8d8"/><circle cx="404.14" cy="251.29" r="1.2" fill="#64d8d8"/><circle cx="404.77" cy="251.39" r="1.2" fill="#64d8d8"/><circle cx="381.30" cy="249.18" r="1.2" fill="#64d8d8"/><circle cx="381.30" cy="250.10" r="1.2" fill="#64d8d8"/><circle cx="394.52" cy="243.85" r="1.2" fill="#64d8d8"/><circle cx="394.52" cy="245.14" r="1.2" fill="#64d8d8"/><circle cx="383.50" cy="245.20" r="1.2" fill="#64d8d8"/><circle cx="386.80" cy="245.20" r="1.2" fill="#64d8d8"/><circle cx="392.50" cy="245.80" r="1.2" fill="#64d8d8"/><circle cx="395.50" cy="245.00" r="1.2" fill="#64d8d8"/><circle cx="398.50" cy="245.80" r="1.2" fill="#64d8d8"/><circle cx="401.50" cy="246.40" r="1.2" fill="#64d8d8"/><path d="M409.10,246.30 L410.00,245.60 L412.00,245.20 L413.50,244.10 L415.00,243.00 L417.00,240.50 L418.50,244.10 L420.00,243.80 L421.00,243.30 L422.00,243.80 L422.50,246.30 L424.00,246.00 L425.50,247.00 L427.00,248.50 L428.50,249.60 L429.70,246.80 L430.50,244.90 L432.00,246.00 L433.50,248.10 L433.30,248.80 L433.30,269.80 Q433.30,271.80 431.30,271.80 L411.10,271.80 Q409.10,271.80 409.10,269.80 Z" fill="#4484ba" stroke="#4484ba" stroke-width="1.6" stroke-linejoin="round"/><circle cx="409.27" cy="246.56" r="1.2" fill="#4484ba"/><circle cx="410.03" cy="245.40" r="1.2" fill="#4484ba"/><circle cx="410.78" cy="245.44" r="1.2" fill="#4484ba"/><circle cx="412.06" cy="245.52" r="1.2" fill="#4484ba"/><circle cx="412.91" cy="245.49" r="1.2" fill="#4484ba"/><circle cx="413.61" cy="244.12" r="1.2" fill="#4484ba"/><circle cx="414.84" cy="242.94" r="1.2" fill="#4484ba"/><circle cx="415.37" cy="242.80" r="1.2" fill="#4484ba"/><circle cx="416.36" cy="241.57" r="1.2" fill="#4484ba"/><circle cx="417.35" cy="241.90" r="1.2" fill="#4484ba"/><circle cx="418.49" cy="244.14" r="1.2" fill="#4484ba"/><circle cx="419.43" cy="244.33" r="1.2" fill="#4484ba"/><circle cx="420.06" cy="244.79" r="1.2" fill="#4484ba"/><circle cx="421.05" cy="243.32" r="1.2" fill="#4484ba"/><circle cx="421.88" cy="244.37" r="1.2" fill="#4484ba"/><circle cx="423.27" cy="246.96" r="1.2" fill="#4484ba"/><circle cx="423.91" cy="246.16" r="1.2" fill="#4484ba"/><circle cx="424.59" cy="247.03" r="1.2" fill="#4484ba"/><circle cx="425.84" cy="247.60" r="1.2" fill="#4484ba"/><circle cx="426.82" cy="248.69" r="1.2" fill="#4484ba"/><circle cx="427.91" cy="249.92" r="1.2" fill="#4484ba"/><circle cx="428.42" cy="250.52" r="1.2" fill="#4484ba"/><circle cx="429.22" cy="248.41" r="1.2" fill="#4484ba"/><circle cx="430.36" cy="245.35" r="1.2" fill="#4484ba"/><circle cx="431.07" cy="246.13" r="1.2" fill="#4484ba"/><circle cx="431.96" cy="246.49" r="1.2" fill="#4484ba"/><circle cx="433.44" cy="248.01" r="1.2" fill="#4484ba"/><circle cx="409.80" cy="244.11" r="1.2" fill="#4484ba"/><circle cx="409.80" cy="245.10" r="1.2" fill="#4484ba"/><circle cx="414.32" cy="242.40" r="1.2" fill="#4484ba"/><circle cx="414.32" cy="243.15" r="1.2" fill="#4484ba"/><circle cx="416.22" cy="239.45" r="1.2" fill="#4484ba"/><circle cx="416.22" cy="240.66" r="1.2" fill="#4484ba"/><circle cx="426.72" cy="247.25" r="1.2" fill="#4484ba"/><circle cx="426.72" cy="247.94" r="1.2" fill="#4484ba"/><circle cx="428.36" cy="247.70" r="1.2" fill="#4484ba"/><circle cx="428.36" cy="248.80" r="1.2" fill="#4484ba"/><circle cx="417.00" cy="240.90" r="1.2" fill="#4484ba"/><circle cx="421.00" cy="243.70" r="1.2" fill="#4484ba"/><circle cx="424.00" cy="246.40" r="1.2" fill="#4484ba"/><circle cx="430.50" cy="245.30" r="1.2" fill="#4484ba"/><path d="M437.10,250.00 L437.50,247.00 L438.50,244.50 L440.00,242.30 L441.50,246.30 L443.00,247.40 L444.50,248.10 L446.00,248.90 L447.50,247.00 L449.00,246.30 L450.50,247.80 L452.00,248.10 L454.50,245.60 L456.00,246.70 L457.50,250.00 L459.50,250.70 L461.10,252.20 L461.10,269.80 Q461.10,271.80 459.10,271.80 L439.10,271.80 Q437.10,271.80 437.10,269.80 Z" fill="#f08224" stroke="#f08224" stroke-width="1.6" stroke-linejoin="round"/><circle cx="437.07" cy="248.59" r="1.2" fill="#f08224"/><circle cx="438.09" cy="246.35" r="1.2" fill="#f08224"/><circle cx="439.06" cy="243.83" r="1.2" fill="#f08224"/><circle cx="440.04" cy="243.47" r="1.2" fill="#f08224"/><circle cx="440.70" cy="245.12" r="1.2" fill="#f08224"/><circle cx="441.49" cy="246.42" r="1.2" fill="#f08224"/><circle cx="442.54" cy="247.83" r="1.2" fill="#f08224"/><circle cx="443.88" cy="248.58" r="1.2" fill="#f08224"/><circle cx="444.42" cy="249.01" r="1.2" fill="#f08224"/><circle cx="445.34" cy="248.66" r="1.2" fill="#f08224"/><circle cx="446.60" cy="248.76" r="1.2" fill="#f08224"/><circle cx="447.39" cy="247.81" r="1.2" fill="#f08224"/><circle cx="448.47" cy="246.96" r="1.2" fill="#f08224"/><circle cx="449.30" cy="247.31" r="1.2" fill="#f08224"/><circle cx="450.23" cy="247.90" r="1.2" fill="#f08224"/><circle cx="451.06" cy="248.45" r="1.2" fill="#f08224"/><circle cx="451.73" cy="248.12" r="1.2" fill="#f08224"/><circle cx="452.83" cy="247.17" r="1.2" fill="#f08224"/><circle cx="453.92" cy="246.17" r="1.2" fill="#f08224"/><circle cx="454.30" cy="245.74" r="1.2" fill="#f08224"/><circle cx="455.76" cy="246.77" r="1.2" fill="#f08224"/><circle cx="456.20" cy="246.98" r="1.2" fill="#f08224"/><circle cx="457.05" cy="249.72" r="1.2" fill="#f08224"/><circle cx="458.32" cy="250.99" r="1.2" fill="#f08224"/><circle cx="459.30" cy="250.52" r="1.2" fill="#f08224"/><circle cx="460.13" cy="251.36" r="1.2" fill="#f08224"/><circle cx="461.18" cy="252.61" r="1.2" fill="#f08224"/><circle cx="443.69" cy="246.94" r="1.2" fill="#f08224"/><circle cx="443.69" cy="247.53" r="1.2" fill="#f08224"/><circle cx="452.05" cy="247.30" r="1.2" fill="#f08224"/><circle cx="452.05" cy="247.88" r="1.2" fill="#f08224"/><circle cx="454.40" cy="244.59" r="1.2" fill="#f08224"/><circle cx="454.40" cy="245.34" r="1.2" fill="#f08224"/><circle cx="456.43" cy="246.63" r="1.2" fill="#f08224"/><circle cx="456.43" cy="247.34" r="1.2" fill="#f08224"/><circle cx="460.28" cy="249.04" r="1.2" fill="#f08224"/><circle cx="460.28" cy="250.32" r="1.2" fill="#f08224"/><circle cx="440.00" cy="242.70" r="1.2" fill="#f08224"/><circle cx="449.00" cy="246.70" r="1.2" fill="#f08224"/><circle cx="454.50" cy="246.00" r="1.2" fill="#f08224"/><path d="M468.10,250.70 L469.00,247.80 L471.00,246.30 L472.50,247.00 L475.00,248.50 L477.00,247.30 L479.00,248.10 L481.50,248.90 L483.00,247.00 L484.50,245.60 L486.00,248.50 L486.20,250.80 L486.20,269.80 Q486.20,271.80 484.20,271.80 L470.10,271.80 Q468.10,271.80 468.10,269.80 Z" fill="#4fb03a" stroke="#4fb03a" stroke-width="1.6" stroke-linejoin="round"/><circle cx="468.45" cy="249.34" r="1.2" fill="#4fb03a"/><circle cx="468.89" cy="248.32" r="1.2" fill="#4fb03a"/><circle cx="470.08" cy="247.80" r="1.2" fill="#4fb03a"/><circle cx="470.96" cy="247.05" r="1.2" fill="#4fb03a"/><circle cx="472.01" cy="246.85" r="1.2" fill="#4fb03a"/><circle cx="473.15" cy="247.31" r="1.2" fill="#4fb03a"/><circle cx="474.06" cy="247.96" r="1.2" fill="#4fb03a"/><circle cx="474.51" cy="248.27" r="1.2" fill="#4fb03a"/><circle cx="475.90" cy="249.03" r="1.2" fill="#4fb03a"/><circle cx="476.38" cy="248.11" r="1.2" fill="#4fb03a"/><circle cx="477.61" cy="248.38" r="1.2" fill="#4fb03a"/><circle cx="478.37" cy="248.29" r="1.2" fill="#4fb03a"/><circle cx="479.40" cy="249.11" r="1.2" fill="#4fb03a"/><circle cx="480.29" cy="249.54" r="1.2" fill="#4fb03a"/><circle cx="481.24" cy="248.90" r="1.2" fill="#4fb03a"/><circle cx="482.43" cy="248.17" r="1.2" fill="#4fb03a"/><circle cx="483.01" cy="247.61" r="1.2" fill="#4fb03a"/><circle cx="483.93" cy="246.95" r="1.2" fill="#4fb03a"/><circle cx="485.24" cy="247.86" r="1.2" fill="#4fb03a"/><circle cx="486.14" cy="249.08" r="1.2" fill="#4fb03a"/><circle cx="474.11" cy="246.94" r="1.2" fill="#4fb03a"/><circle cx="474.11" cy="247.65" r="1.2" fill="#4fb03a"/><circle cx="471.00" cy="246.70" r="1.2" fill="#4fb03a"/><circle cx="477.00" cy="247.70" r="1.2" fill="#4fb03a"/><circle cx="484.50" cy="246.00" r="1.2" fill="#4fb03a"/><path d="M492.90,250.00 L493.50,248.10 L495.00,246.70 L496.50,248.10 L498.50,246.70 L500.00,248.50 L501.50,247.40 L503.00,246.70 L504.50,248.50 L506.00,247.40 L507.50,245.20 L509.00,247.00 L509.10,250.80 L509.10,269.80 Q509.10,271.80 507.10,271.80 L494.90,271.80 Q492.90,271.80 492.90,269.80 Z" fill="#dc2f2f" stroke="#dc2f2f" stroke-width="1.6" stroke-linejoin="round"/><circle cx="492.93" cy="248.87" r="1.2" fill="#dc2f2f"/><circle cx="494.18" cy="248.13" r="1.2" fill="#dc2f2f"/><circle cx="495.06" cy="246.77" r="1.2" fill="#dc2f2f"/><circle cx="495.81" cy="248.26" r="1.2" fill="#dc2f2f"/><circle cx="496.83" cy="247.83" r="1.2" fill="#dc2f2f"/><circle cx="497.70" cy="248.21" r="1.2" fill="#dc2f2f"/><circle cx="498.50" cy="246.75" r="1.2" fill="#dc2f2f"/><circle cx="499.48" cy="248.58" r="1.2" fill="#dc2f2f"/><circle cx="500.74" cy="247.96" r="1.2" fill="#dc2f2f"/><circle cx="501.26" cy="247.70" r="1.2" fill="#dc2f2f"/><circle cx="502.30" cy="247.50" r="1.2" fill="#dc2f2f"/><circle cx="503.14" cy="247.09" r="1.2" fill="#dc2f2f"/><circle cx="504.09" cy="249.08" r="1.2" fill="#dc2f2f"/><circle cx="505.35" cy="247.81" r="1.2" fill="#dc2f2f"/><circle cx="506.43" cy="246.70" r="1.2" fill="#dc2f2f"/><circle cx="507.02" cy="246.98" r="1.2" fill="#dc2f2f"/><circle cx="508.20" cy="246.80" r="1.2" fill="#dc2f2f"/><circle cx="508.92" cy="246.96" r="1.2" fill="#dc2f2f"/><circle cx="495.31" cy="245.77" r="1.2" fill="#dc2f2f"/><circle cx="495.31" cy="246.58" r="1.2" fill="#dc2f2f"/><circle cx="503.50" cy="245.73" r="1.2" fill="#dc2f2f"/><circle cx="503.50" cy="246.71" r="1.2" fill="#dc2f2f"/><circle cx="495.00" cy="247.10" r="1.2" fill="#dc2f2f"/><circle cx="498.50" cy="247.10" r="1.2" fill="#dc2f2f"/><circle cx="503.00" cy="247.10" r="1.2" fill="#dc2f2f"/><circle cx="507.50" cy="245.60" r="1.2" fill="#dc2f2f"/><path d="M517.00,252.20 L517.50,250.30 L519.00,249.20 L520.00,247.80 L521.50,246.00 L522.80,245.20 L524.00,246.30 L525.50,248.10 L527.00,247.80 L528.00,246.00 L528.20,243.40 L530.70,243.40 L531.00,247.40 L531.90,250.70 L531.90,269.80 Q531.90,271.80 529.90,271.80 L519.00,271.80 Q517.00,271.80 517.00,269.80 Z" fill="#9568c8" stroke="#9568c8" stroke-width="1.6" stroke-linejoin="round"/><circle cx="517.27" cy="250.99" r="1.2" fill="#9568c8"/><circle cx="517.87" cy="250.77" r="1.2" fill="#9568c8"/><circle cx="519.18" cy="249.76" r="1.2" fill="#9568c8"/><circle cx="519.99" cy="248.73" r="1.2" fill="#9568c8"/><circle cx="520.89" cy="247.36" r="1.2" fill="#9568c8"/><circle cx="521.67" cy="246.10" r="1.2" fill="#9568c8"/><circle cx="522.69" cy="245.19" r="1.2" fill="#9568c8"/><circle cx="523.49" cy="246.65" r="1.2" fill="#9568c8"/><circle cx="524.58" cy="247.61" r="1.2" fill="#9568c8"/><circle cx="525.22" cy="248.11" r="1.2" fill="#9568c8"/><circle cx="526.26" cy="248.56" r="1.2" fill="#9568c8"/><circle cx="527.15" cy="248.22" r="1.2" fill="#9568c8"/><circle cx="528.37" cy="243.44" r="1.2" fill="#9568c8"/><circle cx="529.13" cy="244.21" r="1.2" fill="#9568c8"/><circle cx="529.88" cy="243.84" r="1.2" fill="#9568c8"/><circle cx="531.15" cy="247.54" r="1.2" fill="#9568c8"/><circle cx="531.81" cy="248.98" r="1.2" fill="#9568c8"/><circle cx="522.80" cy="245.60" r="1.2" fill="#9568c8"/><circle cx="528.20" cy="243.80" r="1.2" fill="#9568c8"/><circle cx="530.70" cy="243.80" r="1.2" fill="#9568c8"/><path d="M536.00,252.20 L536.50,246.30 L537.50,245.20 L538.50,246.30 L539.50,248.50 L541.00,248.90 L542.00,249.60 L543.00,252.90 L544.00,248.90 L545.50,248.10 L546.50,246.70 L547.00,238.80 L548.00,237.60 L549.30,238.80 L549.50,246.00 L551.00,246.30 L551.90,250.70 L551.90,269.80 Q551.90,271.80 549.90,271.80 L538.00,271.80 Q536.00,271.80 536.00,269.80 Z" fill="#8c574b" stroke="#8c574b" stroke-width="1.6" stroke-linejoin="round"/><circle cx="536.23" cy="247.83" r="1.2" fill="#8c574b"/><circle cx="537.20" cy="245.49" r="1.2" fill="#8c574b"/><circle cx="538.25" cy="246.29" r="1.2" fill="#8c574b"/><circle cx="538.62" cy="246.72" r="1.2" fill="#8c574b"/><circle cx="539.75" cy="248.38" r="1.2" fill="#8c574b"/><circle cx="540.68" cy="249.16" r="1.2" fill="#8c574b"/><circle cx="541.77" cy="249.69" r="1.2" fill="#8c574b"/><circle cx="542.43" cy="251.10" r="1.2" fill="#8c574b"/><circle cx="543.63" cy="251.38" r="1.2" fill="#8c574b"/><circle cx="544.43" cy="248.76" r="1.2" fill="#8c574b"/><circle cx="545.51" cy="248.39" r="1.2" fill="#8c574b"/><circle cx="546.08" cy="247.26" r="1.2" fill="#8c574b"/><circle cx="547.34" cy="239.24" r="1.2" fill="#8c574b"/><circle cx="548.18" cy="238.17" r="1.2" fill="#8c574b"/><circle cx="549.05" cy="238.67" r="1.2" fill="#8c574b"/><circle cx="550.22" cy="246.40" r="1.2" fill="#8c574b"/><circle cx="550.94" cy="247.15" r="1.2" fill="#8c574b"/><circle cx="551.97" cy="249.22" r="1.2" fill="#8c574b"/><circle cx="536.70" cy="244.60" r="1.2" fill="#8c574b"/><circle cx="536.70" cy="245.54" r="1.2" fill="#8c574b"/><circle cx="545.89" cy="245.80" r="1.2" fill="#8c574b"/><circle cx="545.89" cy="246.88" r="1.2" fill="#8c574b"/><circle cx="547.77" cy="236.80" r="1.2" fill="#8c574b"/><circle cx="547.77" cy="237.54" r="1.2" fill="#8c574b"/><circle cx="537.50" cy="245.60" r="1.2" fill="#8c574b"/><circle cx="548.00" cy="238.00" r="1.2" fill="#8c574b"/><path d="M556.60,250.70 L557.50,248.70 L559.00,248.00 L560.50,246.90 L562.00,245.80 L562.50,244.30 L560.70,242.50 L560.70,233.80 L566.10,233.80 L566.10,241.30 L568.30,242.50 L568.30,244.00 L567.00,246.20 L568.50,246.90 L570.00,247.60 L571.50,249.10 L571.10,250.30 L571.10,269.80 Q571.10,271.80 569.10,271.80 L558.60,271.80 Q556.60,271.80 556.60,269.80 Z" fill="#e07bd2" stroke="#e07bd2" stroke-width="1.6" stroke-linejoin="round"/><circle cx="556.84" cy="249.74" r="1.2" fill="#e07bd2"/><circle cx="557.95" cy="249.40" r="1.2" fill="#e07bd2"/><circle cx="558.38" cy="249.17" r="1.2" fill="#e07bd2"/><circle cx="559.83" cy="248.21" r="1.2" fill="#e07bd2"/><circle cx="560.32" cy="247.91" r="1.2" fill="#e07bd2"/><circle cx="561.56" cy="245.94" r="1.2" fill="#e07bd2"/><circle cx="562.14" cy="246.43" r="1.2" fill="#e07bd2"/><circle cx="563.47" cy="233.93" r="1.2" fill="#e07bd2"/><circle cx="564.08" cy="233.79" r="1.2" fill="#e07bd2"/><circle cx="565.11" cy="234.61" r="1.2" fill="#e07bd2"/><circle cx="566.13" cy="241.31" r="1.2" fill="#e07bd2"/><circle cx="567.41" cy="242.84" r="1.2" fill="#e07bd2"/><circle cx="567.91" cy="243.25" r="1.2" fill="#e07bd2"/><circle cx="569.12" cy="248.01" r="1.2" fill="#e07bd2"/><circle cx="570.11" cy="248.67" r="1.2" fill="#e07bd2"/><circle cx="571.13" cy="249.62" r="1.2" fill="#e07bd2"/><circle cx="557.30" cy="247.23" r="1.2" fill="#e07bd2"/><circle cx="557.30" cy="248.28" r="1.2" fill="#e07bd2"/><circle cx="563.62" cy="232.83" r="1.2" fill="#e07bd2"/><circle cx="563.62" cy="233.51" r="1.2" fill="#e07bd2"/><circle cx="560.70" cy="234.20" r="1.2" fill="#e07bd2"/><circle cx="566.10" cy="234.20" r="1.2" fill="#e07bd2"/><path d="M575.30,246.90 L576.50,246.20 L578.00,246.50 L579.00,248.00 L580.00,251.30 L581.50,250.90 L582.50,249.10 L584.00,250.20 L585.00,246.20 L585.30,243.30 L586.30,242.10 L587.50,244.00 L588.50,247.60 L589.50,248.30 L589.30,249.30 L589.30,269.80 Q589.30,271.80 587.30,271.80 L577.30,271.80 Q575.30,271.80 575.30,269.80 Z" fill="#7f7f7f" stroke="#7f7f7f" stroke-width="1.6" stroke-linejoin="round"/><circle cx="575.44" cy="247.49" r="1.2" fill="#7f7f7f"/><circle cx="576.04" cy="247.25" r="1.2" fill="#7f7f7f"/><circle cx="577.23" cy="246.88" r="1.2" fill="#7f7f7f"/><circle cx="578.27" cy="247.80" r="1.2" fill="#7f7f7f"/><circle cx="579.01" cy="248.39" r="1.2" fill="#7f7f7f"/><circle cx="580.28" cy="251.12" r="1.2" fill="#7f7f7f"/><circle cx="581.01" cy="251.66" r="1.2" fill="#7f7f7f"/><circle cx="581.56" cy="251.39" r="1.2" fill="#7f7f7f"/><circle cx="582.87" cy="250.38" r="1.2" fill="#7f7f7f"/><circle cx="583.57" cy="250.96" r="1.2" fill="#7f7f7f"/><circle cx="584.60" cy="248.23" r="1.2" fill="#7f7f7f"/><circle cx="585.75" cy="242.60" r="1.2" fill="#7f7f7f"/><circle cx="586.56" cy="243.13" r="1.2" fill="#7f7f7f"/><circle cx="587.25" cy="244.52" r="1.2" fill="#7f7f7f"/><circle cx="588.18" cy="246.88" r="1.2" fill="#7f7f7f"/><circle cx="589.20" cy="248.89" r="1.2" fill="#7f7f7f"/><circle cx="576.00" cy="245.08" r="1.2" fill="#7f7f7f"/><circle cx="576.00" cy="245.93" r="1.2" fill="#7f7f7f"/><circle cx="580.45" cy="249.26" r="1.2" fill="#7f7f7f"/><circle cx="580.45" cy="250.42" r="1.2" fill="#7f7f7f"/><circle cx="576.50" cy="246.60" r="1.2" fill="#7f7f7f"/><circle cx="582.50" cy="249.50" r="1.2" fill="#7f7f7f"/><circle cx="586.30" cy="242.50" r="1.2" fill="#7f7f7f"/><path d="M593.90,249.10 L594.50,248.20 L596.00,247.30 L596.00,234.20 L599.60,234.20 L599.60,237.30 L600.90,237.30 L600.90,240.30 L602.70,240.30 L602.70,242.90 L604.50,244.00 L605.30,245.30 L604.50,246.40 L605.80,247.30 L605.00,248.80 L605.00,269.80 Q605.00,271.80 603.00,271.80 L595.90,271.80 Q593.90,271.80 593.90,269.80 Z" fill="#bccb37" stroke="#bccb37" stroke-width="1.6" stroke-linejoin="round"/><circle cx="593.91" cy="248.79" r="1.2" fill="#bccb37"/><circle cx="594.79" cy="248.59" r="1.2" fill="#bccb37"/><circle cx="595.90" cy="248.18" r="1.2" fill="#bccb37"/><circle cx="596.45" cy="234.94" r="1.2" fill="#bccb37"/><circle cx="597.87" cy="234.71" r="1.2" fill="#bccb37"/><circle cx="598.27" cy="234.39" r="1.2" fill="#bccb37"/><circle cx="599.15" cy="234.25" r="1.2" fill="#bccb37"/><circle cx="600.61" cy="237.89" r="1.2" fill="#bccb37"/><circle cx="601.36" cy="241.13" r="1.2" fill="#bccb37"/><circle cx="602.42" cy="240.90" r="1.2" fill="#bccb37"/><circle cx="603.15" cy="243.79" r="1.2" fill="#bccb37"/><circle cx="604.10" cy="244.33" r="1.2" fill="#bccb37"/><circle cx="605.00" cy="244.89" r="1.2" fill="#bccb37"/><circle cx="598.36" cy="233.54" r="1.2" fill="#bccb37"/><circle cx="598.36" cy="234.07" r="1.2" fill="#bccb37"/><circle cx="596.00" cy="234.60" r="1.2" fill="#bccb37"/><circle cx="599.60" cy="234.60" r="1.2" fill="#bccb37"/><circle cx="600.90" cy="237.70" r="1.2" fill="#bccb37"/><circle cx="602.70" cy="240.70" r="1.2" fill="#bccb37"/><path d="M609.20,247.30 L610.50,246.00 L612.00,246.90 L613.50,245.10 L615.00,246.00 L616.50,244.70 L618.00,246.00 L619.50,243.80 L621.00,245.60 L620.70,246.30 L620.70,269.80 Q620.70,271.80 618.70,271.80 L611.20,271.80 Q609.20,271.80 609.20,269.80 Z" fill="#64d8d8" stroke="#64d8d8" stroke-width="1.6" stroke-linejoin="round"/><circle cx="609.51" cy="247.15" r="1.2" fill="#64d8d8"/><circle cx="610.13" cy="246.42" r="1.2" fill="#64d8d8"/><circle cx="611.16" cy="246.61" r="1.2" fill="#64d8d8"/><circle cx="612.10" cy="247.41" r="1.2" fill="#64d8d8"/><circle cx="613.34" cy="245.16" r="1.2" fill="#64d8d8"/><circle cx="614.05" cy="245.28" r="1.2" fill="#64d8d8"/><circle cx="614.72" cy="246.69" r="1.2" fill="#64d8d8"/><circle cx="615.93" cy="246.19" r="1.2" fill="#64d8d8"/><circle cx="616.79" cy="244.77" r="1.2" fill="#64d8d8"/><circle cx="617.69" cy="246.30" r="1.2" fill="#64d8d8"/><circle cx="618.96" cy="245.67" r="1.2" fill="#64d8d8"/><circle cx="619.61" cy="244.27" r="1.2" fill="#64d8d8"/><circle cx="620.33" cy="245.43" r="1.2" fill="#64d8d8"/><circle cx="609.90" cy="245.53" r="1.2" fill="#64d8d8"/><circle cx="609.90" cy="246.15" r="1.2" fill="#64d8d8"/><circle cx="611.52" cy="244.92" r="1.2" fill="#64d8d8"/><circle cx="611.52" cy="245.96" r="1.2" fill="#64d8d8"/><circle cx="616.65" cy="243.08" r="1.2" fill="#64d8d8"/><circle cx="616.65" cy="244.16" r="1.2" fill="#64d8d8"/><circle cx="610.50" cy="246.40" r="1.2" fill="#64d8d8"/><circle cx="613.50" cy="245.50" r="1.2" fill="#64d8d8"/><circle cx="616.50" cy="245.10" r="1.2" fill="#64d8d8"/><circle cx="619.50" cy="244.20" r="1.2" fill="#64d8d8"/><path d="M626.40,247.30 L627.50,245.60 L629.00,246.90 L630.50,246.00 L632.00,245.40 L633.00,247.30 L633.60,249.10 L633.60,269.80 Q633.60,271.80 631.60,271.80 L628.40,271.80 Q626.40,271.80 626.40,269.80 Z" fill="#4484ba" stroke="#4484ba" stroke-width="1.6" stroke-linejoin="round"/><circle cx="626.31" cy="247.47" r="1.2" fill="#4484ba"/><circle cx="627.68" cy="246.67" r="1.2" fill="#4484ba"/><circle cx="628.67" cy="246.52" r="1.2" fill="#4484ba"/><circle cx="629.59" cy="247.27" r="1.2" fill="#4484ba"/><circle cx="630.47" cy="247.03" r="1.2" fill="#4484ba"/><circle cx="631.32" cy="246.73" r="1.2" fill="#4484ba"/><circle cx="632.57" cy="246.31" r="1.2" fill="#4484ba"/><circle cx="633.13" cy="248.11" r="1.2" fill="#4484ba"/><circle cx="628.78" cy="244.94" r="1.2" fill="#4484ba"/><circle cx="628.78" cy="246.03" r="1.2" fill="#4484ba"/><circle cx="632.63" cy="245.41" r="1.2" fill="#4484ba"/><circle cx="632.63" cy="246.21" r="1.2" fill="#4484ba"/><circle cx="627.50" cy="246.00" r="1.2" fill="#4484ba"/><circle cx="632.00" cy="245.80" r="1.2" fill="#4484ba"/><path d="M640.60,250.80 L641.00,249.10 L642.00,240.30 L643.20,234.00 L644.30,240.30 L644.50,242.90 L645.50,246.40 L645.80,243.80 L646.80,243.10 L648.00,243.80 L647.50,245.80 L647.50,269.80 Q647.50,271.80 645.50,271.80 L642.60,271.80 Q640.60,271.80 640.60,269.80 Z" fill="#f08224" stroke="#f08224" stroke-width="1.6" stroke-linejoin="round"/><circle cx="640.71" cy="250.19" r="1.2" fill="#f08224"/><circle cx="641.48" cy="245.75" r="1.2" fill="#f08224"/><circle cx="642.55" cy="238.04" r="1.2" fill="#f08224"/><circle cx="643.66" cy="236.95" r="1.2" fill="#f08224"/><circle cx="644.45" cy="243.12" r="1.2" fill="#f08224"/><circle cx="645.73" cy="245.20" r="1.2" fill="#f08224"/><circle cx="646.45" cy="243.52" r="1.2" fill="#f08224"/><circle cx="647.09" cy="244.34" r="1.2" fill="#f08224"/><circle cx="643.73" cy="235.45" r="1.2" fill="#f08224"/><circle cx="643.73" cy="236.44" r="1.2" fill="#f08224"/><circle cx="643.20" cy="234.40" r="1.2" fill="#f08224"/><circle cx="646.80" cy="243.50" r="1.2" fill="#f08224"/><circle cx="72.1" cy="243.7" r="1.25" fill="#4484ba"/><circle cx="631.4" cy="237.8" r="1.25" fill="#4484ba"/><circle cx="631.4" cy="239" r="1.25" fill="#4484ba"/><circle cx="421" cy="234.6" r="1.25" fill="#4484ba"/><circle cx="421" cy="236.4" r="1.25" fill="#4484ba"/><circle cx="421" cy="237.9" r="1.25" fill="#4484ba"/><circle cx="421" cy="239.7" r="1.25" fill="#4484ba"/><circle cx="97" cy="239.7" r="1.25" fill="#f08224"/><circle cx="129.8" cy="236.4" r="1.25" fill="#f08224"/><circle cx="134.7" cy="237.5" r="1.25" fill="#f08224"/><circle cx="153.9" cy="243.5" r="1.25" fill="#4fb03a"/><circle cx="166.5" cy="236.8" r="1.25" fill="#4fb03a"/><circle cx="166.5" cy="239" r="1.25" fill="#4fb03a"/><circle cx="166.5" cy="241" r="1.25" fill="#4fb03a"/><circle cx="470.2" cy="243" r="1.25" fill="#4fb03a"/><circle cx="473.5" cy="245.2" r="1.25" fill="#4fb03a"/><circle cx="477.5" cy="245.2" r="1.25" fill="#4fb03a"/><circle cx="484" cy="245.2" r="1.25" fill="#4fb03a"/><circle cx="205" cy="243.7" r="1.25" fill="#dc2f2f"/><circle cx="494.2" cy="237.5" r="1.25" fill="#dc2f2f"/><circle cx="264.5" cy="240.4" r="1.25" fill="#8c574b"/><circle cx="266.5" cy="244.4" r="1.25" fill="#8c574b"/><circle cx="268" cy="243" r="1.25" fill="#8c574b"/><circle cx="269.5" cy="241.9" r="1.25" fill="#8c574b"/><circle cx="270.8" cy="239.7" r="1.25" fill="#8c574b"/><circle cx="273.5" cy="244.4" r="1.25" fill="#8c574b"/><circle cx="311.5" cy="238.2" r="1.25" fill="#e07bd2"/><circle cx="311.5" cy="241.9" r="1.25" fill="#e07bd2"/><circle cx="314.3" cy="243.5" r="1.25" fill="#e07bd2"/><circle cx="333.5" cy="236.8" r="1.25" fill="#7f7f7f"/><circle cx="335.5" cy="237.5" r="1.25" fill="#7f7f7f"/><circle cx="335" cy="239.7" r="1.25" fill="#7f7f7f"/><circle cx="335" cy="241.9" r="1.25" fill="#7f7f7f"/><circle cx="334.5" cy="244.5" r="1.25" fill="#7f7f7f"/><circle cx="358.3" cy="243.3" r="1.25" fill="#bccb37"/><circle cx="395.4" cy="237.6" r="1.25" fill="#64d8d8"/><circle cx="395.4" cy="239.5" r="1.25" fill="#64d8d8"/><circle cx="395.4" cy="240.5" r="1.25" fill="#64d8d8"/>
<rect x="124.60" y="173.30" width="2.00" height="6.70" fill="#f08224"/><circle cx="125.50" cy="173.30" r="1.25" fill="#f08224"/><circle cx="125.56" cy="174.64" r="1.25" fill="#f08224"/><circle cx="125.79" cy="175.98" r="1.25" fill="#f08224"/><circle cx="125.54" cy="177.32" r="1.25" fill="#f08224"/><circle cx="125.69" cy="178.66" r="1.25" fill="#f08224"/><circle cx="125.65" cy="180.00" r="1.25" fill="#f08224"/><circle cx="125.60" cy="182.70" r="1.25" fill="#f08224"/><circle cx="125.60" cy="184.70" r="1.25" fill="#f08224"/><circle cx="125.60" cy="186.70" r="1.25" fill="#f08224"/><circle cx="125.60" cy="204.70" r="1.25" fill="#f08224"/><circle cx="125.80" cy="209.30" r="1.25" fill="#f08224"/><circle cx="125.75" cy="211.36" r="1.25" fill="#f08224"/><circle cx="125.49" cy="213.43" r="1.25" fill="#f08224"/><circle cx="125.35" cy="215.49" r="1.25" fill="#f08224"/><circle cx="125.48" cy="217.55" r="1.25" fill="#f08224"/><circle cx="125.56" cy="219.62" r="1.25" fill="#f08224"/><circle cx="125.64" cy="221.68" r="1.25" fill="#f08224"/><circle cx="125.76" cy="223.75" r="1.25" fill="#f08224"/><circle cx="125.79" cy="225.81" r="1.25" fill="#f08224"/><circle cx="125.37" cy="227.87" r="1.25" fill="#f08224"/><circle cx="125.77" cy="229.94" r="1.25" fill="#f08224"/><circle cx="125.76" cy="232.00" r="1.25" fill="#f08224"/><rect x="124.60" y="232.00" width="2.00" height="11.00" fill="#f08224"/><circle cx="125.78" cy="232.00" r="1.25" fill="#f08224"/><circle cx="125.64" cy="233.38" r="1.25" fill="#f08224"/><circle cx="125.49" cy="234.75" r="1.25" fill="#f08224"/><circle cx="125.78" cy="236.12" r="1.25" fill="#f08224"/><circle cx="125.75" cy="237.50" r="1.25" fill="#f08224"/><circle cx="125.69" cy="238.88" r="1.25" fill="#f08224"/><circle cx="125.81" cy="240.25" r="1.25" fill="#f08224"/><circle cx="125.52" cy="241.62" r="1.25" fill="#f08224"/><circle cx="125.39" cy="243.00" r="1.25" fill="#f08224"/><circle cx="168.90" cy="70.30" r="1.25" fill="#4fb03a"/><circle cx="168.90" cy="72.00" r="1.25" fill="#4fb03a"/><circle cx="168.90" cy="73.80" r="1.25" fill="#4fb03a"/><circle cx="168.90" cy="78.00" r="1.25" fill="#4fb03a"/><rect x="167.90" y="80.80" width="2.00" height="26.70" fill="#4fb03a"/><circle cx="168.93" cy="80.80" r="1.25" fill="#4fb03a"/><circle cx="169.05" cy="82.07" r="1.25" fill="#4fb03a"/><circle cx="168.75" cy="83.34" r="1.25" fill="#4fb03a"/><circle cx="169.03" cy="84.61" r="1.25" fill="#4fb03a"/><circle cx="169.12" cy="85.89" r="1.25" fill="#4fb03a"/><circle cx="168.77" cy="87.16" r="1.25" fill="#4fb03a"/><circle cx="168.95" cy="88.43" r="1.25" fill="#4fb03a"/><circle cx="168.99" cy="89.70" r="1.25" fill="#4fb03a"/><circle cx="168.88" cy="90.97" r="1.25" fill="#4fb03a"/><circle cx="168.75" cy="92.24" r="1.25" fill="#4fb03a"/><circle cx="168.78" cy="93.51" r="1.25" fill="#4fb03a"/><circle cx="169.03" cy="94.79" r="1.25" fill="#4fb03a"/><circle cx="169.05" cy="96.06" r="1.25" fill="#4fb03a"/><circle cx="168.88" cy="97.33" r="1.25" fill="#4fb03a"/><circle cx="168.69" cy="98.60" r="1.25" fill="#4fb03a"/><circle cx="169.05" cy="99.87" r="1.25" fill="#4fb03a"/><circle cx="169.04" cy="101.14" r="1.25" fill="#4fb03a"/><circle cx="168.77" cy="102.41" r="1.25" fill="#4fb03a"/><circle cx="168.94" cy="103.69" r="1.25" fill="#4fb03a"/><circle cx="169.10" cy="104.96" r="1.25" fill="#4fb03a"/><circle cx="169.09" cy="106.23" r="1.25" fill="#4fb03a"/><circle cx="168.91" cy="107.50" r="1.25" fill="#4fb03a"/><circle cx="168.90" cy="111.30" r="1.25" fill="#4fb03a"/><circle cx="168.90" cy="121.70" r="1.25" fill="#4fb03a"/><circle cx="168.90" cy="123.30" r="1.25" fill="#4fb03a"/><circle cx="168.90" cy="127.50" r="1.25" fill="#4fb03a"/><circle cx="168.90" cy="132.50" r="1.25" fill="#4fb03a"/><circle cx="168.90" cy="134.20" r="1.25" fill="#4fb03a"/><circle cx="168.90" cy="140.80" r="1.25" fill="#4fb03a"/><circle cx="168.90" cy="142.50" r="1.25" fill="#4fb03a"/><circle cx="168.90" cy="159.20" r="1.25" fill="#4fb03a"/><circle cx="168.90" cy="162.00" r="1.25" fill="#4fb03a"/><circle cx="168.90" cy="164.70" r="1.25" fill="#4fb03a"/><circle cx="168.90" cy="169.20" r="1.25" fill="#4fb03a"/><circle cx="168.90" cy="185.30" r="1.25" fill="#4fb03a"/><circle cx="168.90" cy="190.80" r="1.25" fill="#4fb03a"/><circle cx="168.90" cy="193.70" r="1.25" fill="#4fb03a"/><circle cx="168.90" cy="196.30" r="1.25" fill="#4fb03a"/><rect x="167.90" y="197.50" width="2.00" height="1.50" fill="#4fb03a"/><circle cx="168.89" cy="197.50" r="1.25" fill="#4fb03a"/><circle cx="168.94" cy="199.00" r="1.25" fill="#4fb03a"/><circle cx="168.74" cy="207.50" r="1.25" fill="#4fb03a"/><circle cx="168.75" cy="209.50" r="1.25" fill="#4fb03a"/><circle cx="168.74" cy="211.50" r="1.25" fill="#4fb03a"/><circle cx="169.00" cy="213.50" r="1.25" fill="#4fb03a"/><circle cx="168.83" cy="215.50" r="1.25" fill="#4fb03a"/><circle cx="168.93" cy="218.00" r="1.25" fill="#4fb03a"/><circle cx="168.85" cy="220.50" r="1.25" fill="#4fb03a"/><circle cx="168.91" cy="222.00" r="1.25" fill="#4fb03a"/><circle cx="168.72" cy="224.00" r="1.25" fill="#4fb03a"/><circle cx="168.67" cy="226.00" r="1.25" fill="#4fb03a"/><circle cx="169.15" cy="228.00" r="1.25" fill="#4fb03a"/><circle cx="168.84" cy="230.00" r="1.25" fill="#4fb03a"/><circle cx="168.70" cy="232.00" r="1.25" fill="#4fb03a"/><rect x="167.90" y="232.00" width="2.00" height="11.00" fill="#4fb03a"/><circle cx="168.97" cy="232.00" r="1.25" fill="#4fb03a"/><circle cx="169.04" cy="233.38" r="1.25" fill="#4fb03a"/><circle cx="168.73" cy="234.75" r="1.25" fill="#4fb03a"/><circle cx="168.95" cy="236.12" r="1.25" fill="#4fb03a"/><circle cx="168.82" cy="237.50" r="1.25" fill="#4fb03a"/><circle cx="168.91" cy="238.88" r="1.25" fill="#4fb03a"/><circle cx="168.66" cy="240.25" r="1.25" fill="#4fb03a"/><circle cx="168.67" cy="241.62" r="1.25" fill="#4fb03a"/><circle cx="169.15" cy="243.00" r="1.25" fill="#4fb03a"/><circle cx="218.60" cy="193.30" r="1.25" fill="#9568c8"/><circle cx="218.60" cy="195.30" r="1.25" fill="#9568c8"/><circle cx="218.60" cy="198.70" r="1.25" fill="#9568c8"/><circle cx="218.60" cy="201.30" r="1.25" fill="#9568c8"/><circle cx="218.60" cy="204.00" r="1.25" fill="#9568c8"/><circle cx="218.60" cy="206.70" r="1.25" fill="#9568c8"/><circle cx="218.60" cy="212.70" r="1.25" fill="#9568c8"/><circle cx="218.60" cy="222.00" r="1.25" fill="#9568c8"/><circle cx="218.60" cy="225.30" r="1.25" fill="#9568c8"/><circle cx="218.60" cy="228.00" r="1.25" fill="#9568c8"/><circle cx="218.60" cy="230.70" r="1.25" fill="#9568c8"/><rect x="217.60" y="233.00" width="2.00" height="3.80" fill="#9568c8"/><circle cx="218.78" cy="233.00" r="1.25" fill="#9568c8"/><circle cx="218.59" cy="234.27" r="1.25" fill="#9568c8"/><circle cx="218.63" cy="235.53" r="1.25" fill="#9568c8"/><circle cx="218.48" cy="236.80" r="1.25" fill="#9568c8"/><circle cx="335.90" cy="218.40" r="1.15" fill="#7f7f7f"/><circle cx="335.90" cy="220.70" r="1.15" fill="#7f7f7f"/><circle cx="335.90" cy="224.20" r="1.15" fill="#7f7f7f"/><rect x="342.96" y="185.70" width="2.08" height="18.70" fill="#7f7f7f"/><circle cx="344.14" cy="185.70" r="1.30" fill="#7f7f7f"/><circle cx="343.96" cy="187.04" r="1.30" fill="#7f7f7f"/><circle cx="344.22" cy="188.37" r="1.30" fill="#7f7f7f"/><circle cx="344.13" cy="189.71" r="1.30" fill="#7f7f7f"/><circle cx="344.16" cy="191.04" r="1.30" fill="#7f7f7f"/><circle cx="344.23" cy="192.38" r="1.30" fill="#7f7f7f"/><circle cx="343.88" cy="193.71" r="1.30" fill="#7f7f7f"/><circle cx="343.77" cy="195.05" r="1.30" fill="#7f7f7f"/><circle cx="343.85" cy="196.39" r="1.30" fill="#7f7f7f"/><circle cx="343.84" cy="197.72" r="1.30" fill="#7f7f7f"/><circle cx="343.79" cy="199.06" r="1.30" fill="#7f7f7f"/><circle cx="343.78" cy="200.39" r="1.30" fill="#7f7f7f"/><circle cx="344.03" cy="201.73" r="1.30" fill="#7f7f7f"/><circle cx="344.19" cy="203.06" r="1.30" fill="#7f7f7f"/><circle cx="343.98" cy="204.40" r="1.30" fill="#7f7f7f"/><circle cx="344.00" cy="209.00" r="1.30" fill="#7f7f7f"/><rect x="342.96" y="215.50" width="2.08" height="31.50" fill="#7f7f7f"/><circle cx="344.22" cy="215.50" r="1.30" fill="#7f7f7f"/><circle cx="344.20" cy="216.76" r="1.30" fill="#7f7f7f"/><circle cx="343.78" cy="218.02" r="1.30" fill="#7f7f7f"/><circle cx="344.05" cy="219.28" r="1.30" fill="#7f7f7f"/><circle cx="343.95" cy="220.54" r="1.30" fill="#7f7f7f"/><circle cx="343.81" cy="221.80" r="1.30" fill="#7f7f7f"/><circle cx="344.23" cy="223.06" r="1.30" fill="#7f7f7f"/><circle cx="343.88" cy="224.32" r="1.30" fill="#7f7f7f"/><circle cx="344.03" cy="225.58" r="1.30" fill="#7f7f7f"/><circle cx="344.07" cy="226.84" r="1.30" fill="#7f7f7f"/><circle cx="344.23" cy="228.10" r="1.30" fill="#7f7f7f"/><circle cx="344.08" cy="229.36" r="1.30" fill="#7f7f7f"/><circle cx="343.95" cy="230.62" r="1.30" fill="#7f7f7f"/><circle cx="343.97" cy="231.88" r="1.30" fill="#7f7f7f"/><circle cx="343.83" cy="233.14" r="1.30" fill="#7f7f7f"/><circle cx="344.23" cy="234.40" r="1.30" fill="#7f7f7f"/><circle cx="344.25" cy="235.66" r="1.30" fill="#7f7f7f"/><circle cx="343.86" cy="236.92" r="1.30" fill="#7f7f7f"/><circle cx="343.77" cy="238.18" r="1.30" fill="#7f7f7f"/><circle cx="343.88" cy="239.44" r="1.30" fill="#7f7f7f"/><circle cx="343.93" cy="240.70" r="1.30" fill="#7f7f7f"/><circle cx="344.20" cy="241.96" r="1.30" fill="#7f7f7f"/><circle cx="344.20" cy="243.22" r="1.30" fill="#7f7f7f"/><circle cx="344.17" cy="244.48" r="1.30" fill="#7f7f7f"/><circle cx="343.77" cy="245.74" r="1.30" fill="#7f7f7f"/><circle cx="344.14" cy="247.00" r="1.30" fill="#7f7f7f"/><rect x="353.56" y="60.40" width="2.08" height="18.10" fill="#bccb37"/><circle cx="354.70" cy="60.40" r="1.30" fill="#bccb37"/><circle cx="354.67" cy="61.69" r="1.30" fill="#bccb37"/><circle cx="354.84" cy="62.99" r="1.30" fill="#bccb37"/><circle cx="354.38" cy="64.28" r="1.30" fill="#bccb37"/><circle cx="354.42" cy="65.57" r="1.30" fill="#bccb37"/><circle cx="354.73" cy="66.86" r="1.30" fill="#bccb37"/><circle cx="354.82" cy="68.16" r="1.30" fill="#bccb37"/><circle cx="354.69" cy="69.45" r="1.30" fill="#bccb37"/><circle cx="354.50" cy="70.74" r="1.30" fill="#bccb37"/><circle cx="354.65" cy="72.04" r="1.30" fill="#bccb37"/><circle cx="354.73" cy="73.33" r="1.30" fill="#bccb37"/><circle cx="354.40" cy="74.62" r="1.30" fill="#bccb37"/><circle cx="354.51" cy="75.91" r="1.30" fill="#bccb37"/><circle cx="354.48" cy="77.21" r="1.30" fill="#bccb37"/><circle cx="354.41" cy="78.50" r="1.30" fill="#bccb37"/><rect x="353.56" y="79.80" width="2.08" height="7.20" fill="#bccb37"/><circle cx="354.59" cy="79.80" r="1.30" fill="#bccb37"/><circle cx="354.43" cy="81.24" r="1.30" fill="#bccb37"/><circle cx="354.47" cy="82.68" r="1.30" fill="#bccb37"/><circle cx="354.42" cy="84.12" r="1.30" fill="#bccb37"/><circle cx="354.69" cy="85.56" r="1.30" fill="#bccb37"/><circle cx="354.36" cy="87.00" r="1.30" fill="#bccb37"/><rect x="353.56" y="88.20" width="2.08" height="10.30" fill="#bccb37"/><circle cx="354.71" cy="88.20" r="1.30" fill="#bccb37"/><circle cx="354.45" cy="89.49" r="1.30" fill="#bccb37"/><circle cx="354.37" cy="90.78" r="1.30" fill="#bccb37"/><circle cx="354.81" cy="92.06" r="1.30" fill="#bccb37"/><circle cx="354.46" cy="93.35" r="1.30" fill="#bccb37"/><circle cx="354.82" cy="94.64" r="1.30" fill="#bccb37"/><circle cx="354.78" cy="95.92" r="1.30" fill="#bccb37"/><circle cx="354.79" cy="97.21" r="1.30" fill="#bccb37"/><circle cx="354.42" cy="98.50" r="1.30" fill="#bccb37"/><rect x="353.56" y="99.60" width="2.08" height="1.40" fill="#bccb37"/><circle cx="354.57" cy="99.60" r="1.30" fill="#bccb37"/><circle cx="354.40" cy="101.00" r="1.30" fill="#bccb37"/><circle cx="354.60" cy="104.20" r="1.30" fill="#bccb37"/><rect x="353.56" y="118.75" width="2.08" height="13.75" fill="#bccb37"/><circle cx="354.81" cy="118.75" r="1.30" fill="#bccb37"/><circle cx="354.77" cy="120.00" r="1.30" fill="#bccb37"/><circle cx="354.66" cy="121.25" r="1.30" fill="#bccb37"/><circle cx="354.58" cy="122.50" r="1.30" fill="#bccb37"/><circle cx="354.52" cy="123.75" r="1.30" fill="#bccb37"/><circle cx="354.76" cy="125.00" r="1.30" fill="#bccb37"/><circle cx="354.59" cy="126.25" r="1.30" fill="#bccb37"/><circle cx="354.66" cy="127.50" r="1.30" fill="#bccb37"/><circle cx="354.42" cy="128.75" r="1.30" fill="#bccb37"/><circle cx="354.46" cy="130.00" r="1.30" fill="#bccb37"/><circle cx="354.38" cy="131.25" r="1.30" fill="#bccb37"/><circle cx="354.71" cy="132.50" r="1.30" fill="#bccb37"/><rect x="353.56" y="133.70" width="2.08" height="8.50" fill="#bccb37"/><circle cx="354.63" cy="133.70" r="1.30" fill="#bccb37"/><circle cx="354.42" cy="135.12" r="1.30" fill="#bccb37"/><circle cx="354.79" cy="136.53" r="1.30" fill="#bccb37"/><circle cx="354.48" cy="137.95" r="1.30" fill="#bccb37"/><circle cx="354.56" cy="139.37" r="1.30" fill="#bccb37"/><circle cx="354.43" cy="140.78" r="1.30" fill="#bccb37"/><circle cx="354.49" cy="142.20" r="1.30" fill="#bccb37"/><rect x="353.56" y="143.40" width="2.08" height="10.10" fill="#bccb37"/><circle cx="354.77" cy="143.40" r="1.30" fill="#bccb37"/><circle cx="354.52" cy="144.66" r="1.30" fill="#bccb37"/><circle cx="354.43" cy="145.93" r="1.30" fill="#bccb37"/><circle cx="354.60" cy="147.19" r="1.30" fill="#bccb37"/><circle cx="354.51" cy="148.45" r="1.30" fill="#bccb37"/><circle cx="354.80" cy="149.71" r="1.30" fill="#bccb37"/><circle cx="354.41" cy="150.97" r="1.30" fill="#bccb37"/><circle cx="354.84" cy="152.24" r="1.30" fill="#bccb37"/><circle cx="354.38" cy="153.50" r="1.30" fill="#bccb37"/><rect x="353.56" y="154.70" width="2.08" height="13.30" fill="#bccb37"/><circle cx="354.80" cy="154.70" r="1.30" fill="#bccb37"/><circle cx="354.68" cy="156.03" r="1.30" fill="#bccb37"/><circle cx="354.46" cy="157.36" r="1.30" fill="#bccb37"/><circle cx="354.59" cy="158.69" r="1.30" fill="#bccb37"/><circle cx="354.49" cy="160.02" r="1.30" fill="#bccb37"/><circle cx="354.48" cy="161.35" r="1.30" fill="#bccb37"/><circle cx="354.45" cy="162.68" r="1.30" fill="#bccb37"/><circle cx="354.53" cy="164.01" r="1.30" fill="#bccb37"/><circle cx="354.85" cy="165.34" r="1.30" fill="#bccb37"/><circle cx="354.85" cy="166.67" r="1.30" fill="#bccb37"/><circle cx="354.81" cy="168.00" r="1.30" fill="#bccb37"/><circle cx="354.60" cy="171.30" r="1.30" fill="#bccb37"/><circle cx="354.60" cy="174.50" r="1.30" fill="#bccb37"/><circle cx="354.60" cy="178.50" r="1.30" fill="#bccb37"/><circle cx="354.60" cy="195.60" r="1.30" fill="#bccb37"/><circle cx="354.60" cy="200.90" r="1.30" fill="#bccb37"/><circle cx="354.60" cy="205.00" r="1.30" fill="#bccb37"/><circle cx="354.60" cy="209.60" r="1.30" fill="#bccb37"/><circle cx="354.60" cy="215.50" r="1.30" fill="#bccb37"/><rect x="353.56" y="218.40" width="2.08" height="29.60" fill="#bccb37"/><circle cx="354.40" cy="218.40" r="1.30" fill="#bccb37"/><circle cx="354.49" cy="219.69" r="1.30" fill="#bccb37"/><circle cx="354.80" cy="220.97" r="1.30" fill="#bccb37"/><circle cx="354.38" cy="222.26" r="1.30" fill="#bccb37"/><circle cx="354.71" cy="223.55" r="1.30" fill="#bccb37"/><circle cx="354.50" cy="224.83" r="1.30" fill="#bccb37"/><circle cx="354.84" cy="226.12" r="1.30" fill="#bccb37"/><circle cx="354.36" cy="227.41" r="1.30" fill="#bccb37"/><circle cx="354.75" cy="228.70" r="1.30" fill="#bccb37"/><circle cx="354.52" cy="229.98" r="1.30" fill="#bccb37"/><circle cx="354.42" cy="231.27" r="1.30" fill="#bccb37"/><circle cx="354.35" cy="232.56" r="1.30" fill="#bccb37"/><circle cx="354.77" cy="233.84" r="1.30" fill="#bccb37"/><circle cx="354.61" cy="235.13" r="1.30" fill="#bccb37"/><circle cx="354.44" cy="236.42" r="1.30" fill="#bccb37"/><circle cx="354.57" cy="237.70" r="1.30" fill="#bccb37"/><circle cx="354.81" cy="238.99" r="1.30" fill="#bccb37"/><circle cx="354.46" cy="240.28" r="1.30" fill="#bccb37"/><circle cx="354.64" cy="241.57" r="1.30" fill="#bccb37"/><circle cx="354.42" cy="242.85" r="1.30" fill="#bccb37"/><circle cx="354.44" cy="244.14" r="1.30" fill="#bccb37"/><circle cx="354.74" cy="245.43" r="1.30" fill="#bccb37"/><circle cx="354.71" cy="246.71" r="1.30" fill="#bccb37"/><circle cx="354.45" cy="248.00" r="1.30" fill="#bccb37"/><circle cx="375.30" cy="219.70" r="1.20" fill="#bccb37"/><circle cx="375.30" cy="225.20" r="1.20" fill="#bccb37"/><circle cx="375.30" cy="227.00" r="1.20" fill="#bccb37"/><circle cx="375.30" cy="228.50" r="1.20" fill="#bccb37"/><rect x="374.34" y="231.40" width="1.92" height="14.60" fill="#bccb37"/><circle cx="375.09" cy="231.40" r="1.20" fill="#bccb37"/><circle cx="375.09" cy="232.73" r="1.20" fill="#bccb37"/><circle cx="375.35" cy="234.05" r="1.20" fill="#bccb37"/><circle cx="375.30" cy="235.38" r="1.20" fill="#bccb37"/><circle cx="375.19" cy="236.71" r="1.20" fill="#bccb37"/><circle cx="375.15" cy="238.04" r="1.20" fill="#bccb37"/><circle cx="375.36" cy="239.36" r="1.20" fill="#bccb37"/><circle cx="375.40" cy="240.69" r="1.20" fill="#bccb37"/><circle cx="375.46" cy="242.02" r="1.20" fill="#bccb37"/><circle cx="375.34" cy="243.35" r="1.20" fill="#bccb37"/><circle cx="375.15" cy="244.67" r="1.20" fill="#bccb37"/><circle cx="375.08" cy="246.00" r="1.20" fill="#bccb37"/><rect x="383.82" y="214.00" width="2.56" height="32.00" fill="#64d8d8"/><circle cx="385.22" cy="214.00" r="1.60" fill="#64d8d8"/><circle cx="385.05" cy="215.28" r="1.60" fill="#64d8d8"/><circle cx="385.21" cy="216.56" r="1.60" fill="#64d8d8"/><circle cx="384.88" cy="217.84" r="1.60" fill="#64d8d8"/><circle cx="385.26" cy="219.12" r="1.60" fill="#64d8d8"/><circle cx="385.02" cy="220.40" r="1.60" fill="#64d8d8"/><circle cx="385.27" cy="221.68" r="1.60" fill="#64d8d8"/><circle cx="385.28" cy="222.96" r="1.60" fill="#64d8d8"/><circle cx="385.10" cy="224.24" r="1.60" fill="#64d8d8"/><circle cx="384.86" cy="225.52" r="1.60" fill="#64d8d8"/><circle cx="385.31" cy="226.80" r="1.60" fill="#64d8d8"/><circle cx="385.09" cy="228.08" r="1.60" fill="#64d8d8"/><circle cx="385.29" cy="229.36" r="1.60" fill="#64d8d8"/><circle cx="384.98" cy="230.64" r="1.60" fill="#64d8d8"/><circle cx="384.94" cy="231.92" r="1.60" fill="#64d8d8"/><circle cx="385.27" cy="233.20" r="1.60" fill="#64d8d8"/><circle cx="385.03" cy="234.48" r="1.60" fill="#64d8d8"/><circle cx="384.93" cy="235.76" r="1.60" fill="#64d8d8"/><circle cx="385.04" cy="237.04" r="1.60" fill="#64d8d8"/><circle cx="385.15" cy="238.32" r="1.60" fill="#64d8d8"/><circle cx="384.85" cy="239.60" r="1.60" fill="#64d8d8"/><circle cx="385.11" cy="240.88" r="1.60" fill="#64d8d8"/><circle cx="385.07" cy="242.16" r="1.60" fill="#64d8d8"/><circle cx="385.11" cy="243.44" r="1.60" fill="#64d8d8"/><circle cx="384.91" cy="244.72" r="1.60" fill="#64d8d8"/><circle cx="385.21" cy="246.00" r="1.60" fill="#64d8d8"/><rect x="528.36" y="234.00" width="2.08" height="10.00" fill="#9568c8"/><circle cx="529.56" cy="234.00" r="1.30" fill="#9568c8"/><circle cx="529.58" cy="235.25" r="1.30" fill="#9568c8"/><circle cx="529.31" cy="236.50" r="1.30" fill="#9568c8"/><circle cx="529.51" cy="237.75" r="1.30" fill="#9568c8"/><circle cx="529.34" cy="239.00" r="1.30" fill="#9568c8"/><circle cx="529.53" cy="240.25" r="1.30" fill="#9568c8"/><circle cx="529.18" cy="241.50" r="1.30" fill="#9568c8"/><circle cx="529.59" cy="242.75" r="1.30" fill="#9568c8"/><circle cx="529.63" cy="244.00" r="1.30" fill="#9568c8"/><rect x="563.22" y="190.00" width="2.56" height="6.60" fill="#e07bd2"/><circle cx="564.50" cy="190.00" r="1.60" fill="#e07bd2"/><circle cx="564.51" cy="191.32" r="1.60" fill="#e07bd2"/><circle cx="564.52" cy="192.64" r="1.60" fill="#e07bd2"/><circle cx="564.52" cy="193.96" r="1.60" fill="#e07bd2"/><circle cx="564.26" cy="195.28" r="1.60" fill="#e07bd2"/><circle cx="564.73" cy="196.60" r="1.60" fill="#e07bd2"/><rect x="563.22" y="199.50" width="2.56" height="34.50" fill="#e07bd2"/><circle cx="564.36" cy="199.50" r="1.60" fill="#e07bd2"/><circle cx="564.34" cy="200.78" r="1.60" fill="#e07bd2"/><circle cx="564.30" cy="202.06" r="1.60" fill="#e07bd2"/><circle cx="564.38" cy="203.33" r="1.60" fill="#e07bd2"/><circle cx="564.66" cy="204.61" r="1.60" fill="#e07bd2"/><circle cx="564.27" cy="205.89" r="1.60" fill="#e07bd2"/><circle cx="564.30" cy="207.17" r="1.60" fill="#e07bd2"/><circle cx="564.60" cy="208.44" r="1.60" fill="#e07bd2"/><circle cx="564.35" cy="209.72" r="1.60" fill="#e07bd2"/><circle cx="564.26" cy="211.00" r="1.60" fill="#e07bd2"/><circle cx="564.55" cy="212.28" r="1.60" fill="#e07bd2"/><circle cx="564.54" cy="213.56" r="1.60" fill="#e07bd2"/><circle cx="564.51" cy="214.83" r="1.60" fill="#e07bd2"/><circle cx="564.60" cy="216.11" r="1.60" fill="#e07bd2"/><circle cx="564.30" cy="217.39" r="1.60" fill="#e07bd2"/><circle cx="564.68" cy="218.67" r="1.60" fill="#e07bd2"/><circle cx="564.61" cy="219.94" r="1.60" fill="#e07bd2"/><circle cx="564.27" cy="221.22" r="1.60" fill="#e07bd2"/><circle cx="564.31" cy="222.50" r="1.60" fill="#e07bd2"/><circle cx="564.50" cy="223.78" r="1.60" fill="#e07bd2"/><circle cx="564.50" cy="225.06" r="1.60" fill="#e07bd2"/><circle cx="564.39" cy="226.33" r="1.60" fill="#e07bd2"/><circle cx="564.31" cy="227.61" r="1.60" fill="#e07bd2"/><circle cx="564.45" cy="228.89" r="1.60" fill="#e07bd2"/><circle cx="564.32" cy="230.17" r="1.60" fill="#e07bd2"/><circle cx="564.55" cy="231.44" r="1.60" fill="#e07bd2"/><circle cx="564.68" cy="232.72" r="1.60" fill="#e07bd2"/><circle cx="564.32" cy="234.00" r="1.60" fill="#e07bd2"/><circle cx="597.40" cy="165.20" r="1.40" fill="#bccb37"/><circle cx="597.40" cy="167.50" r="1.40" fill="#bccb37"/><circle cx="597.40" cy="171.50" r="1.40" fill="#bccb37"/><rect x="596.28" y="191.30" width="2.24" height="2.80" fill="#bccb37"/><circle cx="597.44" cy="191.30" r="1.40" fill="#bccb37"/><circle cx="597.52" cy="192.70" r="1.40" fill="#bccb37"/><circle cx="597.23" cy="194.10" r="1.40" fill="#bccb37"/><rect x="596.28" y="205.60" width="2.24" height="28.90" fill="#bccb37"/><circle cx="597.56" cy="205.60" r="1.40" fill="#bccb37"/><circle cx="597.62" cy="206.86" r="1.40" fill="#bccb37"/><circle cx="597.34" cy="208.11" r="1.40" fill="#bccb37"/><circle cx="597.36" cy="209.37" r="1.40" fill="#bccb37"/><circle cx="597.57" cy="210.63" r="1.40" fill="#bccb37"/><circle cx="597.41" cy="211.88" r="1.40" fill="#bccb37"/><circle cx="597.35" cy="213.14" r="1.40" fill="#bccb37"/><circle cx="597.62" cy="214.40" r="1.40" fill="#bccb37"/><circle cx="597.54" cy="215.65" r="1.40" fill="#bccb37"/><circle cx="597.32" cy="216.91" r="1.40" fill="#bccb37"/><circle cx="597.27" cy="218.17" r="1.40" fill="#bccb37"/><circle cx="597.32" cy="219.42" r="1.40" fill="#bccb37"/><circle cx="597.37" cy="220.68" r="1.40" fill="#bccb37"/><circle cx="597.64" cy="221.93" r="1.40" fill="#bccb37"/><circle cx="597.55" cy="223.19" r="1.40" fill="#bccb37"/><circle cx="597.61" cy="224.45" r="1.40" fill="#bccb37"/><circle cx="597.56" cy="225.70" r="1.40" fill="#bccb37"/><circle cx="597.57" cy="226.96" r="1.40" fill="#bccb37"/><circle cx="597.18" cy="228.22" r="1.40" fill="#bccb37"/><circle cx="597.41" cy="229.47" r="1.40" fill="#bccb37"/><circle cx="597.63" cy="230.73" r="1.40" fill="#bccb37"/><circle cx="597.62" cy="231.99" r="1.40" fill="#bccb37"/><circle cx="597.27" cy="233.24" r="1.40" fill="#bccb37"/><circle cx="597.36" cy="234.50" r="1.40" fill="#bccb37"/>
<line x1="162.5" y1="56.7" x2="166.7" y2="55.5" stroke="#222" stroke-width="0.8"/><text x="121.4" y="58.8" class="lab">LOC730091</text><line x1="347" y1="53.3" x2="353.3" y2="56.2" stroke="#222" stroke-width="0.8"/><text x="328.4" y="54.2" class="lab">BNC2</text><line x1="119.3" y1="172.9" x2="124" y2="171.7" stroke="#222" stroke-width="0.8"/><text x="80.1" y="176.3" class="lab">LOC401022</text><line x1="220" y1="178.7" x2="222.4" y2="173.3" stroke="#222" stroke-width="0.8"/><text x="222.3" y="173.8" class="lab">TERT</text><line x1="345.8" y1="173.8" x2="357.2" y2="169.9" stroke="#222" stroke-width="0.8"/><text x="338.7" y="169.9" class="lab">MIR1208</text><line x1="330.3" y1="220.5" x2="334.4" y2="217.2" stroke="#222" stroke-width="0.8"/><text x="293.8" y="222.5" class="lab">CHMP4C</text><line x1="365" y1="218.75" x2="373.5" y2="215.75" stroke="#222" stroke-width="0.8"/><text x="352.0" y="224.4" class="lab">ABO</text><line x1="385.2" y1="210" x2="388.2" y2="205" stroke="#222" stroke-width="0.8"/><text x="388.4" y="204.7" class="lab">MLLT10</text><line x1="560.4" y1="192.6" x2="563.8" y2="188.5" stroke="#222" stroke-width="0.8"/><text x="537.2" y="192.9" class="lab">SKAP1</text><line x1="548.5" y1="205.7" x2="563.1" y2="203.5" stroke="#222" stroke-width="0.8"/><text x="527.1" y="213.0" class="lab">PLEKHM1</text><line x1="529.8" y1="230.5" x2="532.9" y2="225.5" stroke="#222" stroke-width="0.8"/><text x="532.6" y="225.0" class="lab">PRC1</text><line x1="597.5" y1="159.5" x2="602.2" y2="154.5" stroke="#222" stroke-width="0.8"/><text x="601.2" y="153.5" class="lab">ANKLE1</text><circle cx="168.7" cy="54.7" r="2.4" fill="#f01c1c"/><circle cx="354.5" cy="56.7" r="2.4" fill="#f01c1c"/><circle cx="125.6" cy="170.4" r="2.4" fill="#f01c1c"/><circle cx="218.9" cy="180.9" r="2.4" fill="#f01c1c"/><circle cx="344.0" cy="174.4" r="2.4" fill="#f01c1c"/><circle cx="335.9" cy="215.0" r="2.4" fill="#f01c1c"/><circle cx="375.0" cy="215.2" r="2.4" fill="#f01c1c"/><circle cx="384.7" cy="211.7" r="2.4" fill="#f01c1c"/><circle cx="564.6" cy="187.4" r="2.4" fill="#f01c1c"/><circle cx="564.6" cy="203.0" r="2.4" fill="#f01c1c"/><circle cx="529.3" cy="232.3" r="2.4" fill="#f01c1c"/><circle cx="596.8" cy="161.5" r="2.4" fill="#f01c1c"/>
<line x1="220.9" y1="350.6" x2="220.9" y2="553" stroke="#c43c4e" stroke-width="1.8" stroke-dasharray="4.2,3.8"/><text x="13.5" y="312.6" class="b10">(b)</text><line x1="14.4" y1="329.1" x2="355.8" y2="329.1" stroke="#222" stroke-width="1.6"/><line x1="14.4" y1="347.5" x2="355.8" y2="347.5" stroke="#222" stroke-width="1.1"/><text x="19.3" y="342" class="b10">Exposure</text><text x="150.9" y="342" class="b10">Outcome(Ovarian cancer)</text><text x="280.1" y="342" class="b10">OR(95% CI)</text><text x="9.6" y="360.0" class="b10">eQTL proxied <tspan font-style="italic">GLP-1R</tspan> expression</text><text x="27.1" y="378.1" class="r10">Pancreas</text><text x="278.1" y="378.1" class="r10">0.94(0.89 - 1.00)</text><line x1="214.3" y1="375.5" x2="220.7" y2="375.5" stroke="#111" stroke-width="1.1"/><rect x="214.7" y="372.9" width="5" height="4.8" fill="#000"/><text x="22.1" y="395.5" class="r10">Small intestine terminal ileum</text><text x="278.1" y="395.5" class="r10">1.00(0.96 - 1.05)</text><line x1="218.4" y1="392.5" x2="223.6" y2="392.5" stroke="#111" stroke-width="1.1"/><rect x="218.2" y="389.6" width="5" height="4.8" fill="#000"/><text x="28.0" y="411.1" class="r10">Thyroid</text><text x="278.1" y="411.1" class="r10">0.97(0.90 - 1.05)</text><line x1="214.9" y1="409.5" x2="223.6" y2="409.5" stroke="#111" stroke-width="1.1"/><rect x="216.5" y="406.6" width="5" height="4.8" fill="#000"/><text x="26.5" y="429.2" class="r10">Whole blood</text><text x="278.1" y="429.2" class="r10">1.01(0.79 - 1.29)</text><line x1="208.5" y1="425.5" x2="237.6" y2="425.5" stroke="#111" stroke-width="1.1"/><rect x="218.8" y="423.3" width="5" height="4.8" fill="#000"/><text x="8.8" y="445.0" class="b10">sQTL proxied <tspan font-style="italic">GLP-1R</tspan> expression</text><text x="27.1" y="463.0" class="r10">Pancreas</text><text x="278.1" y="463.0" class="r10">0.76(0.35 - 1.64)</text><line x1="182.8" y1="459.5" x2="258.0" y2="459.5" stroke="#111" stroke-width="1.1"/><rect x="204.2" y="457.1" width="5" height="4.8" fill="#000"/><text x="8.6" y="478.8" class="b10">meQTL proxied <tspan font-style="italic">GLP-1R</tspan> expression</text><text x="22.9" y="495.5" class="r10">Whole blood(cg05924652)</text><text x="278.1" y="495.5" class="r10">0.86(0.69 - 1.05)</text><line x1="202.6" y1="492.5" x2="223.6" y2="492.5" stroke="#111" stroke-width="1.1"/><rect x="210.0" y="490.5" width="5" height="4.8" fill="#000"/><text x="22.9" y="512.0" class="r10">Whole blood(cg25014318)</text><text x="278.1" y="512.0" class="r10">0.79(0.58 - 1.08)</text><line x1="196.2" y1="509.5" x2="225.4" y2="509.5" stroke="#111" stroke-width="1.1"/><rect x="206.0" y="507.5" width="5" height="4.8" fill="#000"/><text x="9.6" y="529.8" class="b10">pQTL proxied <tspan font-style="italic">GLP-1R</tspan> expression</text><text x="27.9" y="547.3" class="r10">Plasma</text><text x="278.1" y="547.3" class="r10">1.06(0.84 - 1.34)</text><line x1="211.4" y1="544.5" x2="240.5" y2="544.5" stroke="#111" stroke-width="1.1"/><rect x="221.7" y="541.6" width="5" height="4.8" fill="#000"/><line x1="162.7" y1="552.9" x2="279.8" y2="552.9" stroke="#333" stroke-width="1"/><line x1="174.1" y1="552.9" x2="174.1" y2="557.4" stroke="#333" stroke-width="1"/><text x="174.1" y="569" class="r10" text-anchor="middle">0.2</text><line x1="197.4" y1="552.9" x2="197.4" y2="557.4" stroke="#333" stroke-width="1"/><text x="197.4" y="569" class="r10" text-anchor="middle">0.6</text><line x1="220.7" y1="552.9" x2="220.7" y2="557.4" stroke="#333" stroke-width="1"/><text x="220.7" y="569" class="r10" text-anchor="middle">1</text><line x1="244.0" y1="552.9" x2="244.0" y2="557.4" stroke="#333" stroke-width="1"/><text x="244.0" y="569" class="r10" text-anchor="middle">1.4</text><line x1="267.3" y1="552.9" x2="267.3" y2="557.4" stroke="#333" stroke-width="1"/><text x="267.3" y="569" class="r10" text-anchor="middle">1.8</text><line x1="165" y1="580.5" x2="218" y2="580.5" stroke="#222" stroke-width="1.1"/><path d="M162.2,580.5 L166.4,578.4 L166.4,582.6 Z" fill="#fff" stroke="#222" stroke-width="0.8"/><line x1="224" y1="580.5" x2="277" y2="580.5" stroke="#222" stroke-width="1.1"/><path d="M280,580.5 L275.8,578.4 L275.8,582.6 Z" fill="#fff" stroke="#222" stroke-width="0.8"/><text x="176.3" y="592.6" class="r10">Protective</text><text x="224.1" y="592.6" class="r10">Negative</text><line x1="14.4" y1="597.8" x2="355.8" y2="597.8" stroke="#111" stroke-width="2"/>
<line x1="539.6" y1="525" x2="539.6" y2="555.4" stroke="#e8252b" stroke-width="2" stroke-dasharray="4.6,4"/><line x1="536" y1="357.3" x2="536" y2="480.4" stroke="#e8252b" stroke-width="2" stroke-dasharray="4.5,4" stroke-dashoffset="2.55"/><text x="370.3" y="318.5" class="b10">(c)</text><line x1="371.7" y1="330" x2="685" y2="330.8" stroke="#222" stroke-width="1.5"/><line x1="371.7" y1="347.5" x2="685" y2="349" stroke="#222" stroke-width="1.5"/><text x="369" y="341.2" class="b10">Outcome</text><text x="462.6" y="342.6" class="b10">Exposure(<tspan font-style="italic">GLP-1R</tspan> expression)</text><text x="365.8" y="366.2" class="b10">Ovarian cancer subtype</text><text x="601.7" y="366.6" class="b10">OR(95% CI)</text><text x="379.8" y="382.5" class="r10">HGOC</text><text x="600.2" y="381.6" class="r10">0.95(0.88 - 1.02)</text><line x1="519.8" y1="379.5" x2="538.6" y2="379.5" stroke="#000" stroke-width="1.2"/><rect x="527.3" y="377.7" width="3.8" height="3.8" fill="#000"/><text x="379.8" y="397.8" class="r10">LGOC</text><text x="600.2" y="396.9" class="r10">0.99(0.78 - 1.24)</text><line x1="506.4" y1="395.5" x2="568.1" y2="395.5" stroke="#000" stroke-width="1.2"/><rect x="532.7" y="393.1" width="3.8" height="3.8" fill="#000"/><text x="379.8" y="413.0" class="r10">ENOC</text><text x="600.2" y="412.3" class="r10">0.83(0.72 - 0.95)</text><line x1="498.4" y1="410.5" x2="529.2" y2="410.5" stroke="#4a72d0" stroke-width="1.2"/><rect x="510.8" y="408.1" width="4.6" height="4.6" fill="#6a8fe0"/><text x="379.8" y="428.3" class="r10">MOC</text><text x="600.2" y="427.5" class="r10">0.97(0.80 - 1.17)</text><line x1="509.1" y1="426.5" x2="558.7" y2="426.5" stroke="#000" stroke-width="1.2"/><rect x="530.0" y="424.1" width="3.8" height="3.8" fill="#000"/><text x="379.8" y="443.7" class="r10">CCOC</text><text x="600.2" y="442.7" class="r10">0.83(0.69 - 1.01)</text><line x1="494.4" y1="441.5" x2="537.2" y2="441.5" stroke="#000" stroke-width="1.2"/><rect x="511.2" y="439.4" width="3.8" height="3.8" fill="#000"/><text x="369" y="459.2" class="b10">Positive control</text><text x="602" y="458.6" class="b10">OR(95% CI)</text><text x="380.3" y="474.5" class="r10">T2D</text><text x="600.2" y="473.8" class="r10">0.97(0.94 - 1.00)</text><line x1="527.9" y1="472.3" x2="535.9" y2="472.3" stroke="#000" stroke-width="1.2"/><rect x="530.0" y="470.4" width="3.8" height="3.8" fill="#000"/><line x1="468.8" y1="480.4" x2="603.4" y2="480.4" stroke="#111" stroke-width="1.1"/><line x1="502.4" y1="480.4" x2="502.4" y2="482.9" stroke="#111" stroke-width="1"/><text x="502.4" y="493" class="r10" text-anchor="middle">0.75</text><line x1="535.9" y1="480.4" x2="535.9" y2="482.9" stroke="#111" stroke-width="1"/><text x="535.9" y="493" class="r10" text-anchor="middle">1</text><line x1="569.4" y1="480.4" x2="569.4" y2="482.9" stroke="#111" stroke-width="1"/><text x="569.4" y="493" class="r10" text-anchor="middle">1.25</text><line x1="470" y1="506" x2="532.7" y2="506" stroke="#666" stroke-width="1.5"/><path d="M468.5,506 L473.5,503.4 L473.5,508.6 Z" fill="#444"/><line x1="539.3" y1="506" x2="587.4" y2="506" stroke="#777" stroke-width="1.5"/><text x="500.1" y="516.7" class="r10">Positive</text><text x="541" y="516.9" class="r10">Negative</text><text x="372.2" y="534" class="b10">Positive control</text><text x="602.2" y="533.9" class="b10">Beta(95%CI)</text><text x="379.5" y="549.7" class="r10">BMI</text><text x="593.9" y="549" class="r10">-0.02(-0.03 - -0.01)</text><line x1="466.4" y1="547.5" x2="515.8" y2="547.5" stroke="#000" stroke-width="1.2"/><rect x="489.6" y="545.4" width="3.8" height="3.8" fill="#000"/><line x1="442.7" y1="555.4" x2="587.8" y2="555.4" stroke="#111" stroke-width="1.1"/><line x1="466.4" y1="555.4" x2="466.4" y2="559.5" stroke="#333" stroke-width="1"/><text x="466.4" y="569" class="r10" text-anchor="middle">-0.03</text><line x1="515.3" y1="555.4" x2="515.3" y2="559.5" stroke="#333" stroke-width="1"/><text x="515.3" y="569" class="r10" text-anchor="middle">-0.01</text><line x1="539.6" y1="555.4" x2="539.6" y2="559.5" stroke="#333" stroke-width="1"/><text x="539.6" y="569" class="r10" text-anchor="middle">0</text><line x1="563.6" y1="555.4" x2="563.6" y2="559.5" stroke="#333" stroke-width="1"/><text x="563.6" y="569" class="r10" text-anchor="middle">0.01</text><line x1="446" y1="582.5" x2="535.5" y2="582.5" stroke="#111" stroke-width="1.2"/><path d="M442.6,582.5 L447,580.3 L447,584.7 Z" fill="#fff" stroke="#111" stroke-width="0.8"/><line x1="543.1" y1="582.5" x2="585" y2="582.5" stroke="#111" stroke-width="1.2"/><path d="M588.6,582.5 L584.2,580.3 L584.2,584.7 Z" fill="#fff" stroke="#111" stroke-width="0.8"/><text x="502.3" y="592.6" class="r10">Positive</text><text x="542.2" y="592.6" class="r10">Negative</text><line x1="372" y1="596" x2="681.6" y2="597.6" stroke="#111" stroke-width="1.5"/>
</svg>
</body></html>
